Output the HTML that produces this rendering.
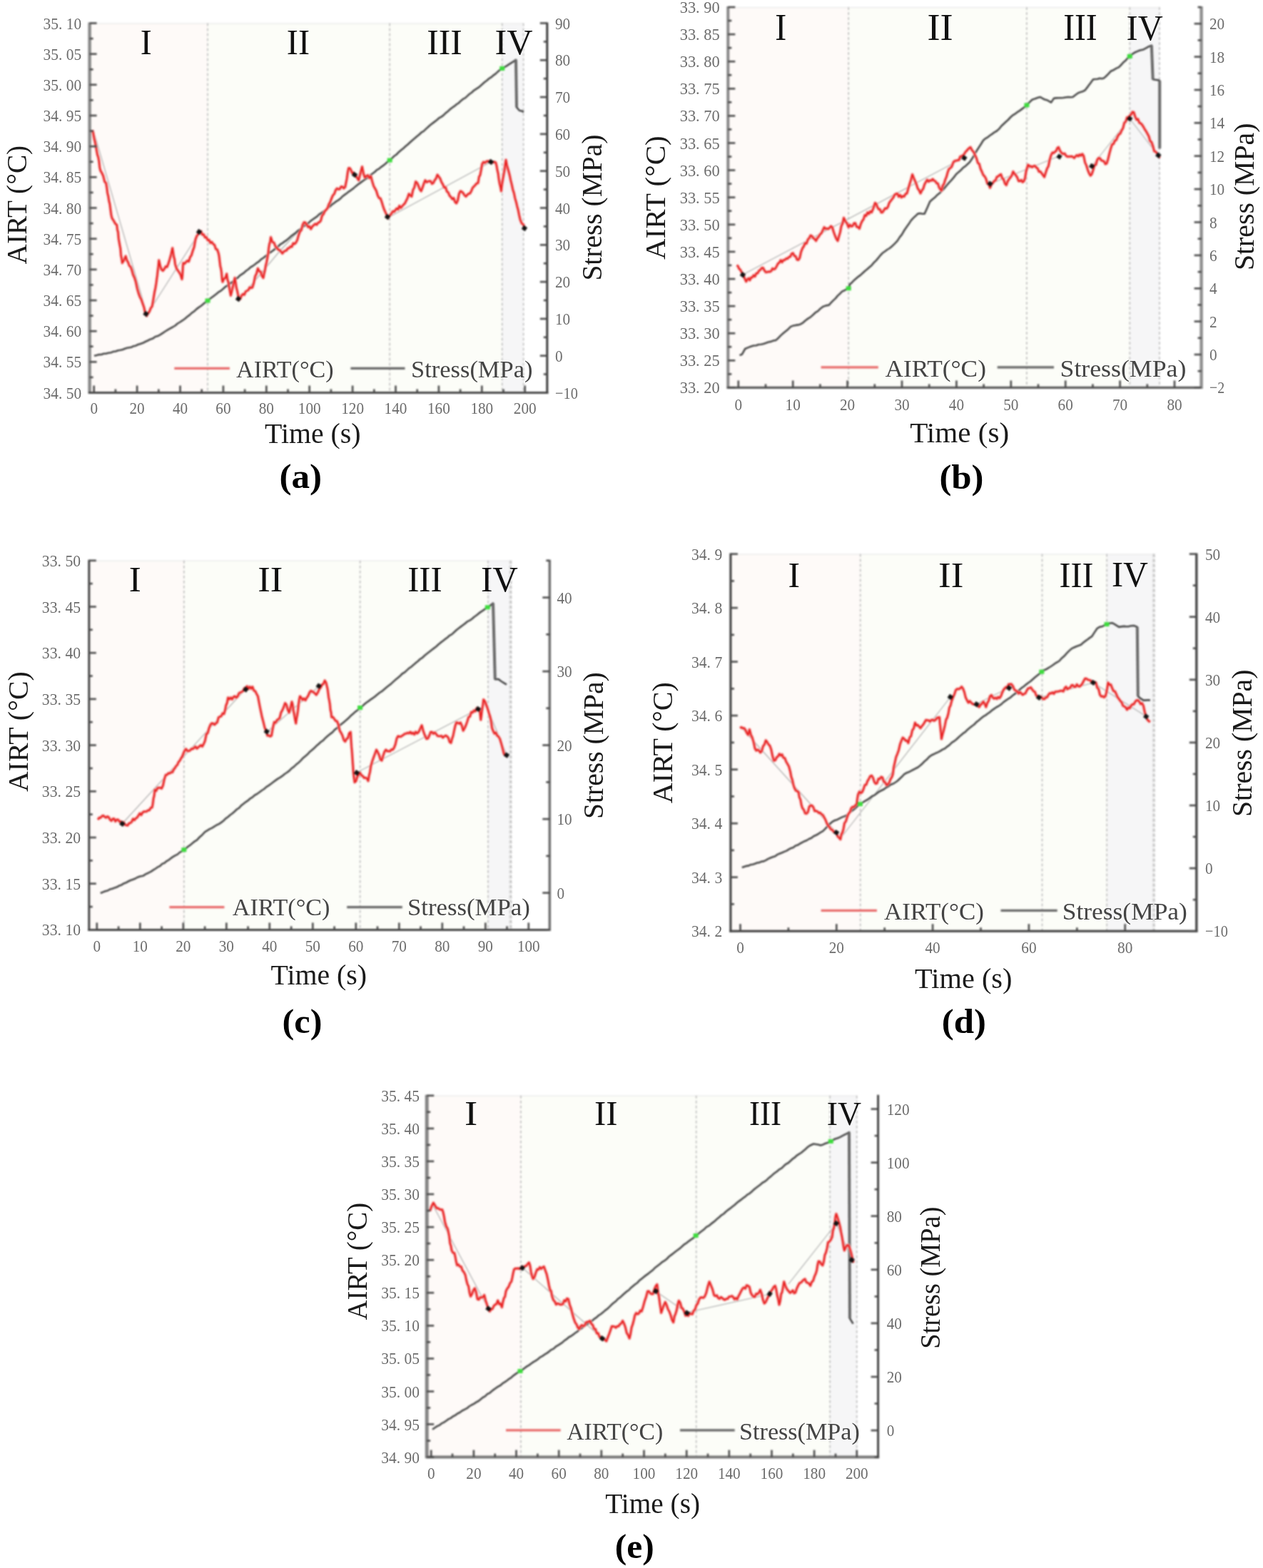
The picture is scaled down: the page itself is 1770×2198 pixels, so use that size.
<!DOCTYPE html>
<html><head><meta charset="utf-8"><title>AIRT and Stress vs Time</title>
<style>
html,body{margin:0;padding:0;background:#fff;width:1770px;height:2198px;overflow:hidden}
svg{display:block}
.soft{filter:blur(0.8px)}
text{font-family:'Liberation Serif', 'Noto Serif CJK SC', serif}
.tk{font-size:24px;fill:#6c6c6c}
.rg{fill:#111}
.lg{fill:#444}
.ax{fill:#1a1a1a}
.pn{font-weight:bold;fill:#000}
</style></head><body>
<div id="w">
<svg width="1770" height="2198" viewBox="0 0 1770 2198">
<rect width="1770" height="2198" fill="#fff"/>
<g class="soft">
<rect x="125.6" y="32.5" width="165.4" height="518.0" fill="#fefaf8"/>
<rect x="291" y="32.5" width="412.7" height="518.0" fill="#fcfdf8"/>
<rect x="703.7" y="32.5" width="29.9" height="518.0" fill="#f6f6f7"/>
<line x1="125.6" y1="33.0" x2="733.6" y2="33.0" stroke="#ececec" stroke-width="1.5"/>
<line x1="291" y1="32.5" x2="291" y2="550.5" stroke="#bdbdbd" stroke-width="1.6" stroke-dasharray="4,3"/>
<line x1="546.2" y1="32.5" x2="546.2" y2="550.5" stroke="#bdbdbd" stroke-width="1.6" stroke-dasharray="4,3"/>
<line x1="703.7" y1="32.5" x2="703.7" y2="550.5" stroke="#bdbdbd" stroke-width="1.6" stroke-dasharray="4,3"/>
<line x1="733.6" y1="32.5" x2="733.6" y2="550.5" stroke="#bdbdbd" stroke-width="1.6" stroke-dasharray="4,3"/>
<polyline points="133.0,190.0 206.0,441.0" fill="none" stroke="#b0b0b0" stroke-width="1.2"/>
<polyline points="206.0,441.0 280.0,325.0" fill="none" stroke="#b0b0b0" stroke-width="1.2"/>
<polyline points="335.0,420.0 392.0,352.0 420.0,322.0" fill="none" stroke="#b0b0b0" stroke-width="1.2"/>
<polyline points="544.0,305.0 686.0,228.0" fill="none" stroke="#b0b0b0" stroke-width="1.2"/>
<polyline points="132.0,498.8 135.4,498.0 138.7,497.1 142.1,497.0 145.4,495.7 148.8,495.6 152.1,494.7 155.5,494.2 158.8,492.9 162.1,492.5 165.4,491.2 168.7,490.8 172.0,490.0 175.0,488.7 178.0,487.8 181.0,487.3 184.0,486.8 187.0,485.2 190.0,484.7 193.4,483.0 196.8,481.9 200.2,480.8 203.6,479.0 207.0,477.5 210.5,475.7 214.0,474.6 217.6,472.0 221.1,471.1 224.6,469.1 228.1,466.8 231.6,464.5 235.0,462.4 238.5,460.4 242.0,458.5 245.4,456.5 248.9,453.5 252.3,451.5 255.8,449.2 259.2,446.7 262.4,444.0 265.6,441.6 268.8,438.6 272.0,436.5 275.3,433.4 278.6,430.9 281.8,428.7 285.1,425.9 291.0,421.5 294.0,419.1 297.0,416.7 300.0,414.6 303.0,412.2 306.0,409.7 309.0,407.9 312.0,405.5 315.0,402.7 318.0,400.7 321.0,398.4 324.0,396.4 327.0,393.9 330.0,391.2 333.0,389.5 336.0,386.4 339.0,384.4 342.0,382.4 345.0,379.5 348.0,377.5 351.0,374.7 354.0,373.0 357.1,370.8 360.1,368.3 363.1,366.3 366.1,363.4 369.1,361.5 372.1,359.0 375.1,356.7 378.1,354.3 381.1,352.3 384.1,350.1 387.1,347.3 390.1,345.2 393.1,342.3 396.1,340.6 399.1,338.3 402.1,336.3 405.1,333.8 408.1,330.9 411.1,328.7 414.1,326.7 417.1,323.7 420.1,321.9 423.1,319.2 426.1,316.9 429.1,314.5 432.1,312.9 435.1,309.9 438.1,307.7 441.1,305.6 444.1,303.7 447.1,300.6 450.1,298.7 453.1,296.5 456.1,294.5 459.1,292.1 462.1,289.8 465.1,286.9 468.1,284.7 471.1,282.4 474.1,280.6 477.1,278.3 480.1,275.2 483.2,272.9 486.2,270.7 489.2,268.3 492.2,266.3 495.2,264.1 498.2,261.4 501.2,258.9 504.2,256.9 507.2,254.6 510.2,252.5 513.2,250.5 516.2,248.0 519.2,245.5 522.2,243.2 525.2,241.0 528.2,238.1 531.2,236.6 534.2,234.1 537.2,231.9 540.2,229.5 543.2,226.8 546.2,224.6 549.4,221.8 552.5,218.7 555.7,216.5 558.9,213.2 562.0,210.5 565.2,207.9 568.4,205.1 571.5,202.5 574.7,199.5 577.8,196.7 581.0,194.1 584.2,191.3 587.3,188.8 590.5,185.7 593.7,183.9 596.8,180.9 600.0,178.0 603.0,175.2 606.1,172.9 609.1,170.6 612.2,168.2 615.2,165.5 618.3,163.9 621.4,161.6 624.4,158.6 627.5,156.3 630.5,153.4 633.6,151.0 636.6,148.9 639.6,146.4 642.7,144.5 645.8,141.4 648.8,138.9 651.9,137.4 654.9,134.6 658.0,131.8 661.0,129.7 664.1,126.8 667.1,124.9 670.2,122.9 673.2,120.4 676.2,117.8 679.3,115.0 682.4,112.7 685.4,110.1 688.5,108.2 691.5,105.6 694.6,103.4 697.6,100.6 700.7,98.0 703.7,95.9 706.9,94.2 710.1,92.4 713.4,90.2 716.6,88.1 719.8,86.1 723.0,83.8 723.2,95.1 723.3,105.7 723.5,117.1 723.7,128.0 723.8,138.7 724.0,150.3 728.0,155.0 731.0,155.5 734.0,157.0" fill="none" stroke="#474747" stroke-width="2.6" stroke-linejoin="round"/>
<line x1="723" y1="83.8" x2="724" y2="150.3" stroke="#6a6a6a" stroke-width="4"/>
<polyline points="129.5,182.3 130.7,186.7 131.9,193.9 133.1,198.7 134.3,205.0 135.4,211.2 136.5,217.1 137.6,220.1 138.7,225.6 139.8,235.3 140.9,239.4 142.8,242.5 144.7,246.7 146.6,254.6 148.5,256.5 149.6,262.5 150.6,270.5 151.7,274.9 152.8,281.9 153.8,285.7 154.9,294.2 155.9,301.5 157.0,305.9 159.2,309.2 161.5,313.4 163.7,315.4 164.5,322.1 165.4,325.1 166.2,334.4 167.1,339.5 167.9,344.0 168.8,348.6 169.6,358.5 170.5,362.6 171.3,368.6 173.7,364.9 176.1,359.1 177.8,364.7 179.5,367.7 181.2,372.5 182.9,373.8 184.6,378.1 186.5,385.2 188.4,389.2 190.3,395.2 192.2,404.3 194.1,411.0 196.0,416.2 197.9,419.6 199.8,425.1 201.8,430.8 203.7,439.7 205.6,442.8 207.5,439.2 209.4,436.8 211.3,431.9 213.2,429.5 214.3,423.1 215.5,416.0 216.6,409.3 217.8,404.0 218.9,397.1 219.7,391.0 220.4,386.1 221.2,378.6 221.9,373.3 222.7,364.8 224.6,373.2 226.5,378.1 228.4,379.5 230.3,377.0 232.2,373.6 234.1,374.3 236.0,369.4 237.9,363.2 239.8,356.3 241.7,347.7 242.6,353.7 243.6,360.1 244.6,363.4 245.5,370.5 247.4,376.3 249.3,379.2 251.2,382.0 253.1,385.1 255.0,391.4 255.5,387.4 255.9,382.4 256.4,372.3 256.9,368.6 258.8,369.6 260.7,367.2 262.6,365.5 264.5,366.7 266.4,360.6 268.3,357.9 270.2,351.5 272.1,346.3 274.0,335.4 275.9,330.6 277.8,328.3 279.7,324.9 281.6,324.2 283.5,329.0 285.4,328.6 287.3,332.8 289.2,332.5 291.1,336.7 293.0,336.3 294.9,340.6 296.8,339.2 298.7,342.0 300.6,343.3 302.5,349.1 304.4,349.7 306.3,355.3 307.1,359.5 307.9,366.3 308.7,372.9 309.6,376.4 310.4,381.6 311.2,391.3 312.0,395.2 313.9,390.5 315.8,389.8 317.7,383.8 318.8,391.8 320.0,395.4 321.1,401.9 322.3,408.3 323.4,414.3 324.8,408.8 326.2,402.4 327.7,396.0 329.1,389.5 330.2,396.2 331.4,403.8 332.5,407.8 333.7,413.6 334.8,420.0 336.7,418.8 338.6,414.2 340.5,412.2 342.4,413.2 344.3,408.6 346.2,407.6 348.1,406.6 350.0,402.8 351.9,403.6 353.8,402.9 355.7,396.6 357.6,387.2 359.5,383.4 361.4,376.2 363.3,380.2 365.2,380.7 367.1,386.8 369.0,389.5 370.2,383.6 371.3,379.0 372.5,371.7 373.6,367.7 374.8,361.0 375.7,356.4 376.7,347.3 377.6,341.8 378.6,339.0 379.5,332.5 381.7,339.2 384.0,340.2 386.2,345.8 388.1,347.5 390.0,350.0 391.9,350.6 393.8,352.7 395.7,355.3 397.6,352.9 399.5,351.6 401.4,351.2 403.3,348.3 405.2,347.7 407.1,345.6 409.0,346.0 410.9,340.9 412.8,342.0 414.7,340.1 416.6,336.5 418.5,329.7 420.4,324.5 422.3,322.6 424.2,315.1 426.1,311.6 428.0,312.0 429.9,315.1 431.8,318.3 433.7,317.3 435.6,321.1 437.8,317.4 440.0,315.4 441.9,313.7 443.8,315.1 445.7,312.3 447.6,311.6 449.5,309.5 451.4,302.4 453.3,300.2 455.2,296.0 457.1,294.1 459.0,291.8 460.9,286.3 462.8,283.1 464.7,278.0 466.6,273.7 468.5,271.8 470.4,266.4 472.3,264.1 474.2,265.3 476.1,265.1 478.0,261.6 479.9,261.8 481.8,264.0 483.7,262.2 484.9,256.2 486.1,250.4 487.3,241.5 488.5,235.6 490.2,235.7 491.9,238.4 493.6,242.7 495.3,242.0 497.0,245.0 498.9,246.8 500.8,249.7 502.7,252.7 504.3,246.0 505.9,239.6 507.5,233.7 509.4,243.3 511.3,248.9 513.4,246.8 515.5,245.6 517.7,249.6 519.8,247.0 521.7,254.5 523.6,260.7 525.5,264.1 527.4,267.6 529.3,273.9 531.2,277.6 533.1,278.0 535.0,283.1 536.7,288.8 538.4,293.8 540.2,297.6 541.9,301.4 543.6,305.9 545.4,303.0 547.1,301.3 548.9,298.9 550.6,296.2 552.4,296.8 554.1,294.5 556.0,292.2 557.9,293.5 559.8,288.5 561.7,291.4 563.6,289.1 565.5,286.9 567.4,285.1 569.3,281.2 571.2,277.4 573.1,271.7 575.0,274.0 576.9,275.5 578.8,266.2 580.7,262.7 582.6,254.6 584.5,256.3 586.4,260.3 588.3,265.4 590.2,267.9 592.1,263.0 594.0,257.4 595.9,252.7 597.8,255.4 599.7,254.5 601.6,253.8 603.5,254.0 605.4,257.6 607.3,256.5 609.2,252.6 611.1,250.2 613.0,245.0 614.9,247.6 616.8,250.2 618.7,255.2 620.6,258.4 622.5,262.8 624.4,262.5 626.3,268.4 628.2,269.8 630.1,274.4 632.0,276.3 633.9,279.0 635.8,277.6 637.7,283.1 639.6,285.0 641.5,281.0 643.4,271.4 645.3,267.9 647.2,268.7 649.1,270.6 651.0,273.7 652.9,275.5 654.8,273.2 656.7,271.6 658.6,271.1 660.5,267.9 662.4,263.2 664.3,261.2 666.2,259.3 668.1,257.0 670.0,256.5 671.4,247.8 672.9,245.4 674.3,238.2 675.7,229.8 677.6,227.1 679.5,228.3 681.4,226.6 683.3,225.9 685.2,226.0 687.1,225.7 689.0,227.5 691.0,227.6 692.9,226.9 694.8,228.0 695.9,232.2 697.0,238.6 698.1,243.3 699.1,251.1 700.2,257.5 701.3,261.6 702.4,267.9 703.3,259.6 704.3,253.8 705.2,248.5 706.2,243.4 707.1,238.0 708.1,229.8 709.0,224.1 710.3,231.3 711.7,236.1 713.0,240.9 714.4,246.4 715.7,252.7 717.2,258.8 718.7,265.8 720.3,270.6 721.8,278.0 723.3,283.1 724.7,289.1 726.1,294.2 727.6,301.8 729.0,307.8 731.2,313.2 733.4,314.6 735.6,321.1" fill="none" stroke="#f5a3a3" stroke-width="4.4" stroke-linejoin="round"/>
<polyline points="129.5,182.3 130.7,186.7 131.9,193.9 133.1,198.7 134.3,205.0 135.4,211.2 136.5,217.1 137.6,220.1 138.7,225.6 139.8,235.3 140.9,239.4 142.8,242.5 144.7,246.7 146.6,254.6 148.5,256.5 149.6,262.5 150.6,270.5 151.7,274.9 152.8,281.9 153.8,285.7 154.9,294.2 155.9,301.5 157.0,305.9 159.2,309.2 161.5,313.4 163.7,315.4 164.5,322.1 165.4,325.1 166.2,334.4 167.1,339.5 167.9,344.0 168.8,348.6 169.6,358.5 170.5,362.6 171.3,368.6 173.7,364.9 176.1,359.1 177.8,364.7 179.5,367.7 181.2,372.5 182.9,373.8 184.6,378.1 186.5,385.2 188.4,389.2 190.3,395.2 192.2,404.3 194.1,411.0 196.0,416.2 197.9,419.6 199.8,425.1 201.8,430.8 203.7,439.7 205.6,442.8 207.5,439.2 209.4,436.8 211.3,431.9 213.2,429.5 214.3,423.1 215.5,416.0 216.6,409.3 217.8,404.0 218.9,397.1 219.7,391.0 220.4,386.1 221.2,378.6 221.9,373.3 222.7,364.8 224.6,373.2 226.5,378.1 228.4,379.5 230.3,377.0 232.2,373.6 234.1,374.3 236.0,369.4 237.9,363.2 239.8,356.3 241.7,347.7 242.6,353.7 243.6,360.1 244.6,363.4 245.5,370.5 247.4,376.3 249.3,379.2 251.2,382.0 253.1,385.1 255.0,391.4 255.5,387.4 255.9,382.4 256.4,372.3 256.9,368.6 258.8,369.6 260.7,367.2 262.6,365.5 264.5,366.7 266.4,360.6 268.3,357.9 270.2,351.5 272.1,346.3 274.0,335.4 275.9,330.6 277.8,328.3 279.7,324.9 281.6,324.2 283.5,329.0 285.4,328.6 287.3,332.8 289.2,332.5 291.1,336.7 293.0,336.3 294.9,340.6 296.8,339.2 298.7,342.0 300.6,343.3 302.5,349.1 304.4,349.7 306.3,355.3 307.1,359.5 307.9,366.3 308.7,372.9 309.6,376.4 310.4,381.6 311.2,391.3 312.0,395.2 313.9,390.5 315.8,389.8 317.7,383.8 318.8,391.8 320.0,395.4 321.1,401.9 322.3,408.3 323.4,414.3 324.8,408.8 326.2,402.4 327.7,396.0 329.1,389.5 330.2,396.2 331.4,403.8 332.5,407.8 333.7,413.6 334.8,420.0 336.7,418.8 338.6,414.2 340.5,412.2 342.4,413.2 344.3,408.6 346.2,407.6 348.1,406.6 350.0,402.8 351.9,403.6 353.8,402.9 355.7,396.6 357.6,387.2 359.5,383.4 361.4,376.2 363.3,380.2 365.2,380.7 367.1,386.8 369.0,389.5 370.2,383.6 371.3,379.0 372.5,371.7 373.6,367.7 374.8,361.0 375.7,356.4 376.7,347.3 377.6,341.8 378.6,339.0 379.5,332.5 381.7,339.2 384.0,340.2 386.2,345.8 388.1,347.5 390.0,350.0 391.9,350.6 393.8,352.7 395.7,355.3 397.6,352.9 399.5,351.6 401.4,351.2 403.3,348.3 405.2,347.7 407.1,345.6 409.0,346.0 410.9,340.9 412.8,342.0 414.7,340.1 416.6,336.5 418.5,329.7 420.4,324.5 422.3,322.6 424.2,315.1 426.1,311.6 428.0,312.0 429.9,315.1 431.8,318.3 433.7,317.3 435.6,321.1 437.8,317.4 440.0,315.4 441.9,313.7 443.8,315.1 445.7,312.3 447.6,311.6 449.5,309.5 451.4,302.4 453.3,300.2 455.2,296.0 457.1,294.1 459.0,291.8 460.9,286.3 462.8,283.1 464.7,278.0 466.6,273.7 468.5,271.8 470.4,266.4 472.3,264.1 474.2,265.3 476.1,265.1 478.0,261.6 479.9,261.8 481.8,264.0 483.7,262.2 484.9,256.2 486.1,250.4 487.3,241.5 488.5,235.6 490.2,235.7 491.9,238.4 493.6,242.7 495.3,242.0 497.0,245.0 498.9,246.8 500.8,249.7 502.7,252.7 504.3,246.0 505.9,239.6 507.5,233.7 509.4,243.3 511.3,248.9 513.4,246.8 515.5,245.6 517.7,249.6 519.8,247.0 521.7,254.5 523.6,260.7 525.5,264.1 527.4,267.6 529.3,273.9 531.2,277.6 533.1,278.0 535.0,283.1 536.7,288.8 538.4,293.8 540.2,297.6 541.9,301.4 543.6,305.9 545.4,303.0 547.1,301.3 548.9,298.9 550.6,296.2 552.4,296.8 554.1,294.5 556.0,292.2 557.9,293.5 559.8,288.5 561.7,291.4 563.6,289.1 565.5,286.9 567.4,285.1 569.3,281.2 571.2,277.4 573.1,271.7 575.0,274.0 576.9,275.5 578.8,266.2 580.7,262.7 582.6,254.6 584.5,256.3 586.4,260.3 588.3,265.4 590.2,267.9 592.1,263.0 594.0,257.4 595.9,252.7 597.8,255.4 599.7,254.5 601.6,253.8 603.5,254.0 605.4,257.6 607.3,256.5 609.2,252.6 611.1,250.2 613.0,245.0 614.9,247.6 616.8,250.2 618.7,255.2 620.6,258.4 622.5,262.8 624.4,262.5 626.3,268.4 628.2,269.8 630.1,274.4 632.0,276.3 633.9,279.0 635.8,277.6 637.7,283.1 639.6,285.0 641.5,281.0 643.4,271.4 645.3,267.9 647.2,268.7 649.1,270.6 651.0,273.7 652.9,275.5 654.8,273.2 656.7,271.6 658.6,271.1 660.5,267.9 662.4,263.2 664.3,261.2 666.2,259.3 668.1,257.0 670.0,256.5 671.4,247.8 672.9,245.4 674.3,238.2 675.7,229.8 677.6,227.1 679.5,228.3 681.4,226.6 683.3,225.9 685.2,226.0 687.1,225.7 689.0,227.5 691.0,227.6 692.9,226.9 694.8,228.0 695.9,232.2 697.0,238.6 698.1,243.3 699.1,251.1 700.2,257.5 701.3,261.6 702.4,267.9 703.3,259.6 704.3,253.8 705.2,248.5 706.2,243.4 707.1,238.0 708.1,229.8 709.0,224.1 710.3,231.3 711.7,236.1 713.0,240.9 714.4,246.4 715.7,252.7 717.2,258.8 718.7,265.8 720.3,270.6 721.8,278.0 723.3,283.1 724.7,289.1 726.1,294.2 727.6,301.8 729.0,307.8 731.2,313.2 733.4,314.6 735.6,321.1" fill="none" stroke="#e81c1c" stroke-width="2.2" stroke-linejoin="round"/>
<rect x="201.5" y="437" width="6" height="6" fill="#111" transform="rotate(35 204.5 440)"/>
<rect x="276" y="322" width="6" height="6" fill="#111" transform="rotate(35 279 325)"/>
<rect x="331" y="416" width="6" height="6" fill="#111" transform="rotate(35 334 419)"/>
<rect x="494" y="242" width="6" height="6" fill="#111" transform="rotate(35 497 245)"/>
<rect x="540" y="301" width="6" height="6" fill="#111" transform="rotate(35 543 304)"/>
<rect x="685" y="224" width="6" height="6" fill="#111" transform="rotate(35 688 227)"/>
<rect x="732" y="317" width="6" height="6" fill="#111" transform="rotate(35 735 320)"/>
<rect x="287.5" y="418.5" width="7" height="6" fill="#3ddc3d"/>
<rect x="542.7" y="221.6" width="7" height="6" fill="#3ddc3d"/>
<rect x="700.2" y="92.9" width="7" height="6" fill="#3ddc3d"/>
<line x1="125.6" y1="31.5" x2="125.6" y2="552.0" stroke="#8a8a8a" stroke-width="4.5"/>
<line x1="124.1" y1="550.5" x2="768.3" y2="550.5" stroke="#474747" stroke-width="3"/>
<line x1="766.8" y1="31.5" x2="766.8" y2="552.0" stroke="#3a3a3a" stroke-width="3"/>
<line x1="125.6" y1="550.5" x2="135.6" y2="550.5" stroke="#4a4a4a" stroke-width="2.6"/>
<line x1="125.6" y1="528.9" x2="130.6" y2="528.9" stroke="#4a4a4a" stroke-width="2.6"/>
<line x1="125.6" y1="507.3" x2="135.6" y2="507.3" stroke="#4a4a4a" stroke-width="2.6"/>
<line x1="125.6" y1="485.7" x2="130.6" y2="485.7" stroke="#4a4a4a" stroke-width="2.6"/>
<line x1="125.6" y1="464.2" x2="135.6" y2="464.2" stroke="#4a4a4a" stroke-width="2.6"/>
<line x1="125.6" y1="442.6" x2="130.6" y2="442.6" stroke="#4a4a4a" stroke-width="2.6"/>
<line x1="125.6" y1="421.0" x2="135.6" y2="421.0" stroke="#4a4a4a" stroke-width="2.6"/>
<line x1="125.6" y1="399.4" x2="130.6" y2="399.4" stroke="#4a4a4a" stroke-width="2.6"/>
<line x1="125.6" y1="377.8" x2="135.6" y2="377.8" stroke="#4a4a4a" stroke-width="2.6"/>
<line x1="125.6" y1="356.2" x2="130.6" y2="356.2" stroke="#4a4a4a" stroke-width="2.6"/>
<line x1="125.6" y1="334.7" x2="135.6" y2="334.7" stroke="#4a4a4a" stroke-width="2.6"/>
<line x1="125.6" y1="313.1" x2="130.6" y2="313.1" stroke="#4a4a4a" stroke-width="2.6"/>
<line x1="125.6" y1="291.5" x2="135.6" y2="291.5" stroke="#4a4a4a" stroke-width="2.6"/>
<line x1="125.6" y1="269.9" x2="130.6" y2="269.9" stroke="#4a4a4a" stroke-width="2.6"/>
<line x1="125.6" y1="248.3" x2="135.6" y2="248.3" stroke="#4a4a4a" stroke-width="2.6"/>
<line x1="125.6" y1="226.8" x2="130.6" y2="226.8" stroke="#4a4a4a" stroke-width="2.6"/>
<line x1="125.6" y1="205.2" x2="135.6" y2="205.2" stroke="#4a4a4a" stroke-width="2.6"/>
<line x1="125.6" y1="183.6" x2="130.6" y2="183.6" stroke="#4a4a4a" stroke-width="2.6"/>
<line x1="125.6" y1="162.0" x2="135.6" y2="162.0" stroke="#4a4a4a" stroke-width="2.6"/>
<line x1="125.6" y1="140.4" x2="130.6" y2="140.4" stroke="#4a4a4a" stroke-width="2.6"/>
<line x1="125.6" y1="118.8" x2="135.6" y2="118.8" stroke="#4a4a4a" stroke-width="2.6"/>
<line x1="125.6" y1="97.3" x2="130.6" y2="97.3" stroke="#4a4a4a" stroke-width="2.6"/>
<line x1="125.6" y1="75.7" x2="135.6" y2="75.7" stroke="#4a4a4a" stroke-width="2.6"/>
<line x1="125.6" y1="54.1" x2="130.6" y2="54.1" stroke="#4a4a4a" stroke-width="2.6"/>
<line x1="125.6" y1="32.5" x2="135.6" y2="32.5" stroke="#4a4a4a" stroke-width="2.6"/>
<line x1="766.8" y1="550.5" x2="756.8" y2="550.5" stroke="#4a4a4a" stroke-width="2.6"/>
<line x1="766.8" y1="524.6" x2="761.8" y2="524.6" stroke="#4a4a4a" stroke-width="2.6"/>
<line x1="766.8" y1="498.7" x2="756.8" y2="498.7" stroke="#4a4a4a" stroke-width="2.6"/>
<line x1="766.8" y1="472.8" x2="761.8" y2="472.8" stroke="#4a4a4a" stroke-width="2.6"/>
<line x1="766.8" y1="446.9" x2="756.8" y2="446.9" stroke="#4a4a4a" stroke-width="2.6"/>
<line x1="766.8" y1="421.0" x2="761.8" y2="421.0" stroke="#4a4a4a" stroke-width="2.6"/>
<line x1="766.8" y1="395.1" x2="756.8" y2="395.1" stroke="#4a4a4a" stroke-width="2.6"/>
<line x1="766.8" y1="369.2" x2="761.8" y2="369.2" stroke="#4a4a4a" stroke-width="2.6"/>
<line x1="766.8" y1="343.3" x2="756.8" y2="343.3" stroke="#4a4a4a" stroke-width="2.6"/>
<line x1="766.8" y1="317.4" x2="761.8" y2="317.4" stroke="#4a4a4a" stroke-width="2.6"/>
<line x1="766.8" y1="291.5" x2="756.8" y2="291.5" stroke="#4a4a4a" stroke-width="2.6"/>
<line x1="766.8" y1="265.6" x2="761.8" y2="265.6" stroke="#4a4a4a" stroke-width="2.6"/>
<line x1="766.8" y1="239.7" x2="756.8" y2="239.7" stroke="#4a4a4a" stroke-width="2.6"/>
<line x1="766.8" y1="213.8" x2="761.8" y2="213.8" stroke="#4a4a4a" stroke-width="2.6"/>
<line x1="766.8" y1="187.9" x2="756.8" y2="187.9" stroke="#4a4a4a" stroke-width="2.6"/>
<line x1="766.8" y1="162.0" x2="761.8" y2="162.0" stroke="#4a4a4a" stroke-width="2.6"/>
<line x1="766.8" y1="136.1" x2="756.8" y2="136.1" stroke="#4a4a4a" stroke-width="2.6"/>
<line x1="766.8" y1="110.2" x2="761.8" y2="110.2" stroke="#4a4a4a" stroke-width="2.6"/>
<line x1="766.8" y1="84.3" x2="756.8" y2="84.3" stroke="#4a4a4a" stroke-width="2.6"/>
<line x1="766.8" y1="58.4" x2="761.8" y2="58.4" stroke="#4a4a4a" stroke-width="2.6"/>
<line x1="766.8" y1="32.5" x2="756.8" y2="32.5" stroke="#4a4a4a" stroke-width="2.6"/>
<line x1="131.7" y1="550.5" x2="131.7" y2="540.5" stroke="#4a4a4a" stroke-width="2.6"/>
<line x1="161.9" y1="550.5" x2="161.9" y2="545.5" stroke="#4a4a4a" stroke-width="2.6"/>
<line x1="192.1" y1="550.5" x2="192.1" y2="540.5" stroke="#4a4a4a" stroke-width="2.6"/>
<line x1="222.3" y1="550.5" x2="222.3" y2="545.5" stroke="#4a4a4a" stroke-width="2.6"/>
<line x1="252.5" y1="550.5" x2="252.5" y2="540.5" stroke="#4a4a4a" stroke-width="2.6"/>
<line x1="282.7" y1="550.5" x2="282.7" y2="545.5" stroke="#4a4a4a" stroke-width="2.6"/>
<line x1="312.9" y1="550.5" x2="312.9" y2="540.5" stroke="#4a4a4a" stroke-width="2.6"/>
<line x1="343.1" y1="550.5" x2="343.1" y2="545.5" stroke="#4a4a4a" stroke-width="2.6"/>
<line x1="373.3" y1="550.5" x2="373.3" y2="540.5" stroke="#4a4a4a" stroke-width="2.6"/>
<line x1="403.5" y1="550.5" x2="403.5" y2="545.5" stroke="#4a4a4a" stroke-width="2.6"/>
<line x1="433.7" y1="550.5" x2="433.7" y2="540.5" stroke="#4a4a4a" stroke-width="2.6"/>
<line x1="463.9" y1="550.5" x2="463.9" y2="545.5" stroke="#4a4a4a" stroke-width="2.6"/>
<line x1="494.1" y1="550.5" x2="494.1" y2="540.5" stroke="#4a4a4a" stroke-width="2.6"/>
<line x1="524.3" y1="550.5" x2="524.3" y2="545.5" stroke="#4a4a4a" stroke-width="2.6"/>
<line x1="554.5" y1="550.5" x2="554.5" y2="540.5" stroke="#4a4a4a" stroke-width="2.6"/>
<line x1="584.7" y1="550.5" x2="584.7" y2="545.5" stroke="#4a4a4a" stroke-width="2.6"/>
<line x1="614.9" y1="550.5" x2="614.9" y2="540.5" stroke="#4a4a4a" stroke-width="2.6"/>
<line x1="645.1" y1="550.5" x2="645.1" y2="545.5" stroke="#4a4a4a" stroke-width="2.6"/>
<line x1="675.3" y1="550.5" x2="675.3" y2="540.5" stroke="#4a4a4a" stroke-width="2.6"/>
<line x1="705.5" y1="550.5" x2="705.5" y2="545.5" stroke="#4a4a4a" stroke-width="2.6"/>
<line x1="735.7" y1="550.5" x2="735.7" y2="540.5" stroke="#4a4a4a" stroke-width="2.6"/>
<line x1="244.3" y1="516.4" x2="321.9" y2="516.4" stroke="#e86a6a" stroke-width="3.2"/>
<line x1="491.4" y1="516.4" x2="567.5" y2="516.4" stroke="#666" stroke-width="3.2"/>
<rect x="1020.3" y="10" width="168.9" height="533.4" fill="#fefaf8"/>
<rect x="1189.2" y="10" width="394.1" height="533.4" fill="#fcfdf8"/>
<rect x="1583.3" y="10" width="41.6" height="533.4" fill="#f6f6f7"/>
<line x1="1020.3" y1="10.5" x2="1624.9" y2="10.5" stroke="#ececec" stroke-width="1.5"/>
<line x1="1189.2" y1="10" x2="1189.2" y2="543.4" stroke="#bdbdbd" stroke-width="1.6" stroke-dasharray="4,3"/>
<line x1="1438.8" y1="10" x2="1438.8" y2="543.4" stroke="#bdbdbd" stroke-width="1.6" stroke-dasharray="4,3"/>
<line x1="1583.3" y1="10" x2="1583.3" y2="543.4" stroke="#bdbdbd" stroke-width="1.6" stroke-dasharray="4,3"/>
<line x1="1624.9" y1="10" x2="1624.9" y2="543.4" stroke="#bdbdbd" stroke-width="1.6" stroke-dasharray="4,3"/>
<polyline points="1041.0,385.0 1351.0,221.0" fill="none" stroke="#b0b0b0" stroke-width="1.2"/>
<polyline points="1387.0,258.0 1484.0,219.0" fill="none" stroke="#b0b0b0" stroke-width="1.2"/>
<polyline points="1530.0,233.0 1583.0,166.0" fill="none" stroke="#b0b0b0" stroke-width="1.2"/>
<polyline points="1583.0,166.0 1623.0,218.0" fill="none" stroke="#b0b0b0" stroke-width="1.2"/>
<polyline points="1036.5,498.0 1039.8,496.8 1044.2,489.0 1048.5,487.1 1052.8,485.5 1056.2,484.5 1059.7,484.3 1063.1,483.0 1066.6,482.7 1070.0,482.0 1073.5,480.8 1077.0,479.5 1080.4,478.9 1083.9,477.5 1087.4,476.9 1090.9,473.7 1094.3,470.1 1097.8,467.0 1101.2,464.2 1104.6,461.4 1108.1,457.9 1111.5,456.6 1115.0,455.9 1118.5,455.4 1121.9,454.4 1125.4,452.3 1128.8,449.3 1132.3,446.6 1135.7,444.6 1139.2,441.5 1142.7,438.2 1146.2,436.1 1149.6,432.7 1153.1,430.0 1157.4,428.4 1161.7,427.6 1164.8,424.1 1167.8,421.1 1170.8,418.4 1173.9,414.6 1177.0,411.8 1180.0,408.6 1183.1,407.3 1186.1,405.5 1189.2,404.2 1191.0,398.5 1194.0,395.9 1197.1,392.7 1200.2,390.1 1203.2,387.6 1206.2,385.4 1209.3,382.5 1212.3,379.7 1215.4,377.3 1218.5,374.5 1221.5,371.9 1224.5,368.3 1227.6,365.4 1230.6,361.8 1233.7,358.0 1236.7,354.8 1240.0,352.5 1243.3,350.0 1246.7,348.0 1250.0,345.2 1253.8,341.6 1257.6,337.6 1260.8,332.6 1264.0,328.6 1267.2,323.0 1270.3,318.5 1273.5,314.1 1276.7,309.1 1279.9,305.6 1283.0,302.8 1286.2,299.6 1289.4,299.1 1292.5,299.8 1295.7,299.6 1299.5,291.3 1303.3,282.5 1306.7,279.5 1310.1,276.8 1313.6,273.2 1317.0,270.5 1320.4,267.3 1323.7,263.6 1326.9,259.7 1330.2,255.8 1333.5,252.3 1336.7,248.6 1340.0,244.3 1343.2,241.4 1346.3,238.8 1349.5,235.3 1352.7,233.1 1355.8,230.2 1359.0,227.2 1362.2,222.6 1365.3,217.4 1368.5,211.8 1371.7,206.8 1374.8,202.0 1378.0,196.8 1381.2,194.1 1384.3,192.3 1387.5,189.8 1390.7,187.6 1393.8,185.3 1397.0,183.5 1400.2,180.6 1403.3,176.8 1406.5,173.7 1409.7,170.7 1412.8,168.0 1416.0,164.5 1419.3,161.6 1422.5,159.6 1425.8,157.2 1429.1,155.1 1432.4,152.6 1435.6,150.2 1438.9,147.4 1442.7,143.4 1446.5,139.8 1450.3,138.4 1454.1,137.1 1457.9,136.0 1460.9,137.9 1464.0,139.5 1467.0,140.2 1470.1,141.8 1473.1,143.6 1476.9,137.9 1480.2,137.4 1483.6,137.2 1486.9,137.2 1490.2,137.0 1493.5,136.5 1496.8,136.0 1500.2,136.2 1503.5,136.0 1507.3,133.0 1511.1,130.3 1514.3,129.1 1517.4,128.2 1520.6,126.5 1524.4,121.6 1528.2,116.4 1532.0,111.3 1535.0,111.0 1538.1,110.7 1541.1,109.7 1544.2,110.2 1547.2,109.4 1550.4,106.5 1553.5,103.4 1556.7,99.8 1560.5,98.2 1564.3,95.9 1568.1,94.1 1571.1,91.0 1574.2,87.6 1577.2,85.1 1580.3,81.5 1583.3,78.9 1587.2,75.6 1591.0,73.2 1594.8,71.6 1598.6,70.3 1602.4,69.4 1606.2,67.3 1610.0,65.2 1613.8,63.7 1614.3,75.1 1614.8,87.2 1615.2,99.0 1615.7,111.3 1618.9,111.8 1622.0,112.1 1625.2,113.2 1625.2,124.1 1625.2,134.4 1625.2,144.5 1625.2,155.2 1625.2,165.8 1625.2,176.4 1625.2,186.7 1625.2,198.0 1625.2,208.2" fill="none" stroke="#474747" stroke-width="2.6" stroke-linejoin="round"/>
<line x1="1613.8" y1="63.7" x2="1615.7" y2="111.3" stroke="#6a6a6a" stroke-width="4"/>
<line x1="1625.2" y1="113.2" x2="1625.2" y2="208.2" stroke="#6a6a6a" stroke-width="4"/>
<polyline points="1032.4,371.9 1034.1,372.9 1035.8,376.7 1037.5,378.1 1039.2,381.5 1040.9,383.3 1043.3,389.6 1045.7,394.7 1047.4,391.5 1049.1,390.1 1050.8,392.9 1052.5,389.0 1054.2,389.0 1056.1,385.8 1058.0,387.6 1059.9,383.2 1061.8,383.0 1063.7,379.4 1065.6,378.3 1067.5,375.7 1069.4,375.4 1071.3,379.2 1073.2,381.7 1075.1,381.4 1077.0,380.8 1078.9,381.0 1080.8,379.9 1082.7,376.3 1084.6,377.6 1086.5,376.5 1088.4,373.3 1090.3,369.5 1092.2,368.1 1094.1,364.7 1096.0,367.6 1097.9,364.5 1099.8,364.6 1101.7,362.4 1103.6,362.7 1105.5,360.4 1107.5,359.9 1109.4,355.8 1111.3,354.8 1113.2,358.6 1115.1,359.3 1117.0,364.0 1118.9,364.3 1120.8,361.3 1122.7,352.8 1124.6,348.2 1126.5,345.2 1128.4,340.8 1130.3,341.4 1132.2,335.8 1134.1,333.6 1136.0,330.0 1137.9,330.9 1139.8,333.8 1141.7,335.2 1143.6,337.6 1145.5,333.7 1147.4,331.7 1149.3,328.5 1151.2,326.9 1153.1,322.6 1155.0,318.6 1156.9,320.7 1158.8,320.3 1160.7,321.0 1162.6,319.4 1164.5,317.0 1166.4,318.6 1168.3,325.1 1170.2,330.3 1172.1,334.8 1174.0,337.6 1175.7,331.5 1177.4,325.7 1179.1,316.8 1180.8,313.4 1182.5,305.3 1184.7,310.1 1187.0,313.1 1189.2,318.6 1191.1,315.1 1193.0,317.4 1194.9,316.7 1196.8,312.9 1198.7,312.8 1200.6,318.1 1202.5,318.2 1204.4,320.5 1206.3,314.1 1208.2,310.0 1210.1,307.5 1212.0,301.5 1213.9,302.5 1215.8,297.8 1217.7,299.8 1219.6,296.3 1221.5,297.7 1223.9,292.1 1226.3,284.4 1228.0,285.8 1229.8,290.7 1231.5,293.4 1233.2,293.3 1235.0,297.9 1236.7,297.7 1238.6,294.9 1240.5,291.9 1242.4,292.5 1244.3,290.1 1246.2,284.4 1248.1,281.8 1250.0,279.4 1251.9,277.0 1253.8,273.0 1255.7,271.7 1257.6,271.4 1259.5,275.7 1261.4,273.4 1263.3,276.8 1265.2,274.9 1267.1,275.5 1269.1,271.8 1271.0,271.1 1272.9,264.3 1274.8,257.9 1276.7,251.8 1278.6,244.5 1280.5,249.4 1282.4,253.7 1284.3,258.4 1286.2,264.3 1288.1,266.7 1290.0,271.1 1291.9,267.0 1293.8,264.6 1295.7,258.4 1297.6,254.9 1299.5,252.1 1301.4,254.7 1303.3,252.8 1305.2,253.3 1307.1,251.0 1309.0,253.3 1310.9,254.0 1312.6,257.0 1314.3,257.0 1316.0,262.5 1317.7,265.3 1319.4,267.3 1321.2,260.1 1322.9,257.8 1324.7,251.9 1326.4,247.9 1328.2,241.3 1329.9,236.9 1331.9,235.6 1333.9,233.4 1336.0,227.6 1338.0,225.5 1340.0,225.3 1341.9,224.6 1343.8,224.5 1345.7,219.5 1347.6,219.0 1349.5,217.7 1351.2,216.2 1353.0,213.0 1354.8,211.3 1356.5,209.2 1358.2,207.6 1360.0,206.3 1362.2,210.6 1364.4,212.9 1366.6,217.7 1368.5,221.9 1370.4,228.5 1372.3,229.7 1374.2,236.7 1376.1,240.8 1378.0,245.4 1379.9,247.2 1381.8,250.6 1383.7,257.2 1385.6,258.2 1387.5,263.3 1389.4,258.6 1391.3,256.7 1393.2,253.8 1395.1,252.9 1397.0,248.1 1398.9,247.2 1400.8,245.4 1402.7,244.3 1404.6,249.7 1406.5,251.6 1408.4,257.4 1410.3,259.5 1412.2,254.1 1414.1,251.1 1416.0,248.8 1417.9,246.1 1419.8,240.5 1421.7,243.6 1423.7,245.8 1425.6,248.7 1427.5,253.8 1429.4,253.9 1431.2,252.3 1433.1,255.3 1435.0,253.8 1436.5,249.7 1437.9,240.9 1439.3,235.6 1440.8,231.0 1442.7,233.1 1444.6,232.9 1446.5,234.4 1448.4,232.8 1450.3,232.4 1452.2,234.8 1454.1,236.0 1456.0,240.6 1457.9,240.4 1459.8,242.9 1461.7,245.5 1463.6,248.1 1465.5,242.0 1467.4,236.3 1469.3,233.0 1471.2,223.6 1473.1,217.2 1475.0,213.9 1476.7,214.5 1478.4,212.7 1480.1,211.7 1481.8,207.5 1483.5,206.3 1485.7,211.6 1488.0,214.7 1490.2,215.8 1492.1,215.2 1494.0,218.4 1495.9,219.6 1497.8,219.4 1499.7,219.5 1501.6,219.1 1503.5,220.0 1505.4,221.5 1507.3,219.2 1509.2,217.5 1511.1,219.1 1513.0,216.7 1514.9,218.2 1516.8,215.8 1518.7,218.7 1520.6,227.9 1522.5,231.9 1524.4,238.1 1526.3,243.0 1528.2,246.2 1530.1,244.0 1532.0,238.3 1533.9,231.5 1535.8,230.9 1537.7,224.0 1539.6,221.5 1541.5,221.8 1543.4,224.8 1545.3,225.4 1547.2,226.2 1549.1,229.9 1551.0,229.1 1552.9,223.0 1554.8,215.0 1556.7,208.0 1558.6,202.5 1560.5,201.7 1562.4,197.3 1564.3,196.3 1566.2,191.7 1568.1,188.4 1570.0,187.3 1571.9,182.9 1573.8,179.7 1575.7,172.0 1577.6,170.5 1579.5,164.5 1581.4,164.6 1583.3,162.2 1585.2,160.4 1587.1,156.9 1589.0,157.6 1590.9,163.6 1592.9,167.8 1594.8,166.9 1596.7,172.1 1598.6,172.9 1600.5,174.8 1602.4,177.8 1604.3,181.3 1606.2,184.1 1608.1,187.6 1610.0,191.1 1611.9,197.7 1613.8,199.2 1615.7,204.6 1617.6,212.0 1619.5,212.6 1621.4,214.9 1623.3,217.1 1625.2,221.5" fill="none" stroke="#f5a3a3" stroke-width="4.4" stroke-linejoin="round"/>
<polyline points="1032.4,371.9 1034.1,372.9 1035.8,376.7 1037.5,378.1 1039.2,381.5 1040.9,383.3 1043.3,389.6 1045.7,394.7 1047.4,391.5 1049.1,390.1 1050.8,392.9 1052.5,389.0 1054.2,389.0 1056.1,385.8 1058.0,387.6 1059.9,383.2 1061.8,383.0 1063.7,379.4 1065.6,378.3 1067.5,375.7 1069.4,375.4 1071.3,379.2 1073.2,381.7 1075.1,381.4 1077.0,380.8 1078.9,381.0 1080.8,379.9 1082.7,376.3 1084.6,377.6 1086.5,376.5 1088.4,373.3 1090.3,369.5 1092.2,368.1 1094.1,364.7 1096.0,367.6 1097.9,364.5 1099.8,364.6 1101.7,362.4 1103.6,362.7 1105.5,360.4 1107.5,359.9 1109.4,355.8 1111.3,354.8 1113.2,358.6 1115.1,359.3 1117.0,364.0 1118.9,364.3 1120.8,361.3 1122.7,352.8 1124.6,348.2 1126.5,345.2 1128.4,340.8 1130.3,341.4 1132.2,335.8 1134.1,333.6 1136.0,330.0 1137.9,330.9 1139.8,333.8 1141.7,335.2 1143.6,337.6 1145.5,333.7 1147.4,331.7 1149.3,328.5 1151.2,326.9 1153.1,322.6 1155.0,318.6 1156.9,320.7 1158.8,320.3 1160.7,321.0 1162.6,319.4 1164.5,317.0 1166.4,318.6 1168.3,325.1 1170.2,330.3 1172.1,334.8 1174.0,337.6 1175.7,331.5 1177.4,325.7 1179.1,316.8 1180.8,313.4 1182.5,305.3 1184.7,310.1 1187.0,313.1 1189.2,318.6 1191.1,315.1 1193.0,317.4 1194.9,316.7 1196.8,312.9 1198.7,312.8 1200.6,318.1 1202.5,318.2 1204.4,320.5 1206.3,314.1 1208.2,310.0 1210.1,307.5 1212.0,301.5 1213.9,302.5 1215.8,297.8 1217.7,299.8 1219.6,296.3 1221.5,297.7 1223.9,292.1 1226.3,284.4 1228.0,285.8 1229.8,290.7 1231.5,293.4 1233.2,293.3 1235.0,297.9 1236.7,297.7 1238.6,294.9 1240.5,291.9 1242.4,292.5 1244.3,290.1 1246.2,284.4 1248.1,281.8 1250.0,279.4 1251.9,277.0 1253.8,273.0 1255.7,271.7 1257.6,271.4 1259.5,275.7 1261.4,273.4 1263.3,276.8 1265.2,274.9 1267.1,275.5 1269.1,271.8 1271.0,271.1 1272.9,264.3 1274.8,257.9 1276.7,251.8 1278.6,244.5 1280.5,249.4 1282.4,253.7 1284.3,258.4 1286.2,264.3 1288.1,266.7 1290.0,271.1 1291.9,267.0 1293.8,264.6 1295.7,258.4 1297.6,254.9 1299.5,252.1 1301.4,254.7 1303.3,252.8 1305.2,253.3 1307.1,251.0 1309.0,253.3 1310.9,254.0 1312.6,257.0 1314.3,257.0 1316.0,262.5 1317.7,265.3 1319.4,267.3 1321.2,260.1 1322.9,257.8 1324.7,251.9 1326.4,247.9 1328.2,241.3 1329.9,236.9 1331.9,235.6 1333.9,233.4 1336.0,227.6 1338.0,225.5 1340.0,225.3 1341.9,224.6 1343.8,224.5 1345.7,219.5 1347.6,219.0 1349.5,217.7 1351.2,216.2 1353.0,213.0 1354.8,211.3 1356.5,209.2 1358.2,207.6 1360.0,206.3 1362.2,210.6 1364.4,212.9 1366.6,217.7 1368.5,221.9 1370.4,228.5 1372.3,229.7 1374.2,236.7 1376.1,240.8 1378.0,245.4 1379.9,247.2 1381.8,250.6 1383.7,257.2 1385.6,258.2 1387.5,263.3 1389.4,258.6 1391.3,256.7 1393.2,253.8 1395.1,252.9 1397.0,248.1 1398.9,247.2 1400.8,245.4 1402.7,244.3 1404.6,249.7 1406.5,251.6 1408.4,257.4 1410.3,259.5 1412.2,254.1 1414.1,251.1 1416.0,248.8 1417.9,246.1 1419.8,240.5 1421.7,243.6 1423.7,245.8 1425.6,248.7 1427.5,253.8 1429.4,253.9 1431.2,252.3 1433.1,255.3 1435.0,253.8 1436.5,249.7 1437.9,240.9 1439.3,235.6 1440.8,231.0 1442.7,233.1 1444.6,232.9 1446.5,234.4 1448.4,232.8 1450.3,232.4 1452.2,234.8 1454.1,236.0 1456.0,240.6 1457.9,240.4 1459.8,242.9 1461.7,245.5 1463.6,248.1 1465.5,242.0 1467.4,236.3 1469.3,233.0 1471.2,223.6 1473.1,217.2 1475.0,213.9 1476.7,214.5 1478.4,212.7 1480.1,211.7 1481.8,207.5 1483.5,206.3 1485.7,211.6 1488.0,214.7 1490.2,215.8 1492.1,215.2 1494.0,218.4 1495.9,219.6 1497.8,219.4 1499.7,219.5 1501.6,219.1 1503.5,220.0 1505.4,221.5 1507.3,219.2 1509.2,217.5 1511.1,219.1 1513.0,216.7 1514.9,218.2 1516.8,215.8 1518.7,218.7 1520.6,227.9 1522.5,231.9 1524.4,238.1 1526.3,243.0 1528.2,246.2 1530.1,244.0 1532.0,238.3 1533.9,231.5 1535.8,230.9 1537.7,224.0 1539.6,221.5 1541.5,221.8 1543.4,224.8 1545.3,225.4 1547.2,226.2 1549.1,229.9 1551.0,229.1 1552.9,223.0 1554.8,215.0 1556.7,208.0 1558.6,202.5 1560.5,201.7 1562.4,197.3 1564.3,196.3 1566.2,191.7 1568.1,188.4 1570.0,187.3 1571.9,182.9 1573.8,179.7 1575.7,172.0 1577.6,170.5 1579.5,164.5 1581.4,164.6 1583.3,162.2 1585.2,160.4 1587.1,156.9 1589.0,157.6 1590.9,163.6 1592.9,167.8 1594.8,166.9 1596.7,172.1 1598.6,172.9 1600.5,174.8 1602.4,177.8 1604.3,181.3 1606.2,184.1 1608.1,187.6 1610.0,191.1 1611.9,197.7 1613.8,199.2 1615.7,204.6 1617.6,212.0 1619.5,212.6 1621.4,214.9 1623.3,217.1 1625.2,221.5" fill="none" stroke="#e81c1c" stroke-width="2.2" stroke-linejoin="round"/>
<rect x="1037.9" y="382.2" width="6" height="6" fill="#111" transform="rotate(35 1040.9 385.2)"/>
<rect x="1348.4" y="218.5" width="6" height="6" fill="#111" transform="rotate(35 1351.4 221.5)"/>
<rect x="1384.5" y="254.60000000000002" width="6" height="6" fill="#111" transform="rotate(35 1387.5 257.6)"/>
<rect x="1481.5" y="216.6" width="6" height="6" fill="#111" transform="rotate(35 1484.5 219.6)"/>
<rect x="1527.1" y="229.9" width="6" height="6" fill="#111" transform="rotate(35 1530.1 232.9)"/>
<rect x="1580.3" y="163.4" width="6" height="6" fill="#111" transform="rotate(35 1583.3 166.4)"/>
<rect x="1620.3" y="214.7" width="6" height="6" fill="#111" transform="rotate(35 1623.3 217.7)"/>
<rect x="1185.7" y="401.2" width="7" height="6" fill="#3ddc3d"/>
<rect x="1435.4" y="144.4" width="7" height="6" fill="#3ddc3d"/>
<rect x="1579.8" y="75.9" width="7" height="6" fill="#3ddc3d"/>
<line x1="1020.3" y1="9" x2="1020.3" y2="544.9" stroke="#888" stroke-width="4"/>
<line x1="1018.8" y1="543.4" x2="1685.1" y2="543.4" stroke="#5a5a5a" stroke-width="3.4"/>
<line x1="1683.6" y1="9" x2="1683.6" y2="544.9" stroke="#8f8f8f" stroke-width="4.5"/>
<line x1="1020.3" y1="543.4" x2="1030.3" y2="543.4" stroke="#4a4a4a" stroke-width="2.6"/>
<line x1="1020.3" y1="524.4" x2="1025.3" y2="524.4" stroke="#4a4a4a" stroke-width="2.6"/>
<line x1="1020.3" y1="505.3" x2="1030.3" y2="505.3" stroke="#4a4a4a" stroke-width="2.6"/>
<line x1="1020.3" y1="486.2" x2="1025.3" y2="486.2" stroke="#4a4a4a" stroke-width="2.6"/>
<line x1="1020.3" y1="467.2" x2="1030.3" y2="467.2" stroke="#4a4a4a" stroke-width="2.6"/>
<line x1="1020.3" y1="448.1" x2="1025.3" y2="448.1" stroke="#4a4a4a" stroke-width="2.6"/>
<line x1="1020.3" y1="429.1" x2="1030.3" y2="429.1" stroke="#4a4a4a" stroke-width="2.6"/>
<line x1="1020.3" y1="410.1" x2="1025.3" y2="410.1" stroke="#4a4a4a" stroke-width="2.6"/>
<line x1="1020.3" y1="391.0" x2="1030.3" y2="391.0" stroke="#4a4a4a" stroke-width="2.6"/>
<line x1="1020.3" y1="371.9" x2="1025.3" y2="371.9" stroke="#4a4a4a" stroke-width="2.6"/>
<line x1="1020.3" y1="352.9" x2="1030.3" y2="352.9" stroke="#4a4a4a" stroke-width="2.6"/>
<line x1="1020.3" y1="333.8" x2="1025.3" y2="333.8" stroke="#4a4a4a" stroke-width="2.6"/>
<line x1="1020.3" y1="314.8" x2="1030.3" y2="314.8" stroke="#4a4a4a" stroke-width="2.6"/>
<line x1="1020.3" y1="295.7" x2="1025.3" y2="295.7" stroke="#4a4a4a" stroke-width="2.6"/>
<line x1="1020.3" y1="276.7" x2="1030.3" y2="276.7" stroke="#4a4a4a" stroke-width="2.6"/>
<line x1="1020.3" y1="257.6" x2="1025.3" y2="257.6" stroke="#4a4a4a" stroke-width="2.6"/>
<line x1="1020.3" y1="238.6" x2="1030.3" y2="238.6" stroke="#4a4a4a" stroke-width="2.6"/>
<line x1="1020.3" y1="219.6" x2="1025.3" y2="219.6" stroke="#4a4a4a" stroke-width="2.6"/>
<line x1="1020.3" y1="200.5" x2="1030.3" y2="200.5" stroke="#4a4a4a" stroke-width="2.6"/>
<line x1="1020.3" y1="181.4" x2="1025.3" y2="181.4" stroke="#4a4a4a" stroke-width="2.6"/>
<line x1="1020.3" y1="162.4" x2="1030.3" y2="162.4" stroke="#4a4a4a" stroke-width="2.6"/>
<line x1="1020.3" y1="143.3" x2="1025.3" y2="143.3" stroke="#4a4a4a" stroke-width="2.6"/>
<line x1="1020.3" y1="124.3" x2="1030.3" y2="124.3" stroke="#4a4a4a" stroke-width="2.6"/>
<line x1="1020.3" y1="105.2" x2="1025.3" y2="105.2" stroke="#4a4a4a" stroke-width="2.6"/>
<line x1="1020.3" y1="86.2" x2="1030.3" y2="86.2" stroke="#4a4a4a" stroke-width="2.6"/>
<line x1="1020.3" y1="67.1" x2="1025.3" y2="67.1" stroke="#4a4a4a" stroke-width="2.6"/>
<line x1="1020.3" y1="48.1" x2="1030.3" y2="48.1" stroke="#4a4a4a" stroke-width="2.6"/>
<line x1="1020.3" y1="29.0" x2="1025.3" y2="29.0" stroke="#4a4a4a" stroke-width="2.6"/>
<line x1="1020.3" y1="10.0" x2="1030.3" y2="10.0" stroke="#4a4a4a" stroke-width="2.6"/>
<line x1="1683.6" y1="543.4" x2="1673.6" y2="543.4" stroke="#4a4a4a" stroke-width="2.6"/>
<line x1="1683.6" y1="520.2" x2="1678.6" y2="520.2" stroke="#4a4a4a" stroke-width="2.6"/>
<line x1="1683.6" y1="497.0" x2="1673.6" y2="497.0" stroke="#4a4a4a" stroke-width="2.6"/>
<line x1="1683.6" y1="473.8" x2="1678.6" y2="473.8" stroke="#4a4a4a" stroke-width="2.6"/>
<line x1="1683.6" y1="450.6" x2="1673.6" y2="450.6" stroke="#4a4a4a" stroke-width="2.6"/>
<line x1="1683.6" y1="427.4" x2="1678.6" y2="427.4" stroke="#4a4a4a" stroke-width="2.6"/>
<line x1="1683.6" y1="404.3" x2="1673.6" y2="404.3" stroke="#4a4a4a" stroke-width="2.6"/>
<line x1="1683.6" y1="381.1" x2="1678.6" y2="381.1" stroke="#4a4a4a" stroke-width="2.6"/>
<line x1="1683.6" y1="357.9" x2="1673.6" y2="357.9" stroke="#4a4a4a" stroke-width="2.6"/>
<line x1="1683.6" y1="334.7" x2="1678.6" y2="334.7" stroke="#4a4a4a" stroke-width="2.6"/>
<line x1="1683.6" y1="311.5" x2="1673.6" y2="311.5" stroke="#4a4a4a" stroke-width="2.6"/>
<line x1="1683.6" y1="288.3" x2="1678.6" y2="288.3" stroke="#4a4a4a" stroke-width="2.6"/>
<line x1="1683.6" y1="265.1" x2="1673.6" y2="265.1" stroke="#4a4a4a" stroke-width="2.6"/>
<line x1="1683.6" y1="241.9" x2="1678.6" y2="241.9" stroke="#4a4a4a" stroke-width="2.6"/>
<line x1="1683.6" y1="218.7" x2="1673.6" y2="218.7" stroke="#4a4a4a" stroke-width="2.6"/>
<line x1="1683.6" y1="195.5" x2="1678.6" y2="195.5" stroke="#4a4a4a" stroke-width="2.6"/>
<line x1="1683.6" y1="172.3" x2="1673.6" y2="172.3" stroke="#4a4a4a" stroke-width="2.6"/>
<line x1="1683.6" y1="149.1" x2="1678.6" y2="149.1" stroke="#4a4a4a" stroke-width="2.6"/>
<line x1="1683.6" y1="126.0" x2="1673.6" y2="126.0" stroke="#4a4a4a" stroke-width="2.6"/>
<line x1="1683.6" y1="102.8" x2="1678.6" y2="102.8" stroke="#4a4a4a" stroke-width="2.6"/>
<line x1="1683.6" y1="79.6" x2="1673.6" y2="79.6" stroke="#4a4a4a" stroke-width="2.6"/>
<line x1="1683.6" y1="56.4" x2="1678.6" y2="56.4" stroke="#4a4a4a" stroke-width="2.6"/>
<line x1="1683.6" y1="33.2" x2="1673.6" y2="33.2" stroke="#4a4a4a" stroke-width="2.6"/>
<line x1="1683.6" y1="10.0" x2="1678.6" y2="10.0" stroke="#4a4a4a" stroke-width="2.6"/>
<line x1="1034.8" y1="543.4" x2="1034.8" y2="533.4" stroke="#4a4a4a" stroke-width="2.6"/>
<line x1="1073.0" y1="543.4" x2="1073.0" y2="538.4" stroke="#4a4a4a" stroke-width="2.6"/>
<line x1="1111.2" y1="543.4" x2="1111.2" y2="533.4" stroke="#4a4a4a" stroke-width="2.6"/>
<line x1="1149.4" y1="543.4" x2="1149.4" y2="538.4" stroke="#4a4a4a" stroke-width="2.6"/>
<line x1="1187.6" y1="543.4" x2="1187.6" y2="533.4" stroke="#4a4a4a" stroke-width="2.6"/>
<line x1="1225.8" y1="543.4" x2="1225.8" y2="538.4" stroke="#4a4a4a" stroke-width="2.6"/>
<line x1="1264.0" y1="543.4" x2="1264.0" y2="533.4" stroke="#4a4a4a" stroke-width="2.6"/>
<line x1="1302.2" y1="543.4" x2="1302.2" y2="538.4" stroke="#4a4a4a" stroke-width="2.6"/>
<line x1="1340.4" y1="543.4" x2="1340.4" y2="533.4" stroke="#4a4a4a" stroke-width="2.6"/>
<line x1="1378.6" y1="543.4" x2="1378.6" y2="538.4" stroke="#4a4a4a" stroke-width="2.6"/>
<line x1="1416.8" y1="543.4" x2="1416.8" y2="533.4" stroke="#4a4a4a" stroke-width="2.6"/>
<line x1="1455.0" y1="543.4" x2="1455.0" y2="538.4" stroke="#4a4a4a" stroke-width="2.6"/>
<line x1="1493.2" y1="543.4" x2="1493.2" y2="533.4" stroke="#4a4a4a" stroke-width="2.6"/>
<line x1="1531.4" y1="543.4" x2="1531.4" y2="538.4" stroke="#4a4a4a" stroke-width="2.6"/>
<line x1="1569.6" y1="543.4" x2="1569.6" y2="533.4" stroke="#4a4a4a" stroke-width="2.6"/>
<line x1="1607.8" y1="543.4" x2="1607.8" y2="538.4" stroke="#4a4a4a" stroke-width="2.6"/>
<line x1="1646.0" y1="543.4" x2="1646.0" y2="533.4" stroke="#4a4a4a" stroke-width="2.6"/>
<line x1="1150.6" y1="514.9" x2="1230.8" y2="514.9" stroke="#e86a6a" stroke-width="3.2"/>
<line x1="1397.7" y1="514.9" x2="1477" y2="514.9" stroke="#666" stroke-width="3.2"/>
<rect x="124.8" y="785.8" width="133.0" height="517.6" fill="#fefaf8"/>
<rect x="257.8" y="785.8" width="426.2" height="517.6" fill="#fcfdf8"/>
<rect x="684" y="785.8" width="31.6" height="517.6" fill="#f6f6f7"/>
<line x1="124.8" y1="786.3" x2="715.6" y2="786.3" stroke="#ececec" stroke-width="1.5"/>
<line x1="715.6" y1="785.8" x2="715.6" y2="1303.4" stroke="#e2e2e2" stroke-width="4.5" stroke-dasharray="5,2"/>
<line x1="257.8" y1="785.8" x2="257.8" y2="1303.4" stroke="#bdbdbd" stroke-width="1.6" stroke-dasharray="4,3"/>
<line x1="504.6" y1="785.8" x2="504.6" y2="1303.4" stroke="#bdbdbd" stroke-width="1.6" stroke-dasharray="4,3"/>
<line x1="684" y1="785.8" x2="684" y2="1303.4" stroke="#bdbdbd" stroke-width="1.6" stroke-dasharray="4,3"/>
<line x1="715.6" y1="785.8" x2="715.6" y2="1303.4" stroke="#bdbdbd" stroke-width="1.6" stroke-dasharray="4,3"/>
<polyline points="171.0,1155.0 344.0,966.0" fill="none" stroke="#b0b0b0" stroke-width="1.2"/>
<polyline points="374.0,1026.0 447.0,962.0" fill="none" stroke="#b0b0b0" stroke-width="1.2"/>
<polyline points="500.0,1083.0 670.0,994.0" fill="none" stroke="#b0b0b0" stroke-width="1.2"/>
<polyline points="678.0,981.0 710.0,1058.0" fill="none" stroke="#b0b0b0" stroke-width="1.2"/>
<polyline points="140.8,1252.0 144.1,1250.6 147.5,1249.2 150.8,1248.4 154.2,1246.6 157.5,1245.8 160.9,1244.4 164.2,1243.3 167.3,1241.4 170.4,1240.4 173.5,1238.4 176.6,1237.3 179.8,1235.5 182.9,1234.0 186.0,1232.9 189.1,1231.8 192.2,1230.0 196.3,1228.5 200.4,1227.8 204.1,1225.4 207.8,1223.7 211.4,1221.9 215.1,1219.4 218.2,1217.5 221.3,1215.3 224.4,1213.8 227.4,1210.9 230.5,1209.7 233.6,1207.1 236.7,1205.3 239.7,1202.9 242.7,1200.9 245.7,1199.1 248.8,1197.6 251.8,1194.9 254.8,1193.3 257.8,1191.2 260.8,1189.1 263.8,1186.5 266.9,1184.4 269.9,1181.7 272.9,1179.4 275.9,1177.6 279.7,1173.5 283.5,1170.2 287.3,1166.2 290.6,1164.2 293.8,1162.2 297.1,1160.6 300.3,1158.6 303.6,1156.5 306.8,1155.1 310.1,1152.9 313.2,1150.5 316.3,1147.4 319.4,1145.2 322.5,1142.5 325.6,1140.3 328.8,1137.5 331.9,1134.5 335.0,1132.6 338.1,1129.1 341.2,1126.8 344.3,1124.3 347.5,1122.2 350.7,1119.3 354.0,1117.3 357.2,1114.5 360.4,1112.8 363.6,1110.5 366.9,1108.0 370.1,1106.0 373.3,1103.1 376.5,1101.1 379.8,1098.7 383.0,1096.3 386.2,1093.9 389.4,1091.6 392.5,1089.8 395.7,1087.7 398.9,1085.0 402.0,1083.0 405.2,1080.6 408.4,1077.3 411.5,1075.1 414.7,1072.1 417.9,1069.6 421.0,1066.6 424.2,1063.1 427.3,1060.4 430.5,1057.8 433.7,1054.3 436.8,1051.8 440.0,1049.0 443.2,1045.8 446.5,1042.9 449.7,1040.0 452.9,1037.9 456.1,1034.4 459.4,1031.6 462.6,1028.9 465.8,1026.6 469.1,1022.9 472.3,1020.5 475.5,1017.6 478.8,1014.8 482.0,1012.3 485.2,1009.4 488.5,1006.6 491.7,1003.2 494.9,1000.5 498.1,997.6 501.4,995.2 504.6,992.0 507.6,990.2 510.7,987.1 513.7,984.8 516.8,982.6 519.8,980.3 522.8,978.3 525.9,976.1 528.9,973.5 532.0,971.0 535.0,969.2 538.2,966.4 541.4,963.7 544.5,961.2 547.7,958.9 550.9,955.9 554.0,953.1 557.2,950.5 560.4,947.8 563.6,944.5 566.8,942.7 569.9,939.9 573.1,936.9 576.3,934.7 579.4,932.1 582.6,929.2 585.8,926.7 588.9,923.8 592.1,921.8 595.3,918.7 598.4,916.2 601.6,913.8 604.8,911.2 607.9,908.9 611.1,906.5 614.3,903.5 617.4,900.9 620.6,898.5 623.8,895.9 626.9,893.7 630.1,890.8 633.3,889.1 636.4,886.3 639.6,883.3 642.8,880.8 645.9,878.4 649.1,876.0 652.2,873.6 655.3,871.1 658.4,869.6 661.5,867.5 664.6,864.7 667.8,862.5 670.9,859.9 674.0,857.6 677.1,855.6 680.2,853.3 683.3,851.3 687.1,848.8 691.0,845.6 691.3,855.9 691.6,866.4 691.8,878.0 692.1,888.2 692.4,898.5 692.7,909.5 693.0,919.7 693.2,930.8 693.5,941.9 693.8,952.1 698.6,952.1 702.4,955.0 706.2,957.4 710.0,959.7" fill="none" stroke="#474747" stroke-width="2.6" stroke-linejoin="round"/>
<line x1="691" y1="845.6" x2="693.8" y2="952.1" stroke="#6a6a6a" stroke-width="4"/>
<polyline points="137.1,1149.0 139.0,1146.3 140.9,1146.4 142.8,1144.1 144.7,1143.3 146.6,1144.9 148.5,1146.2 150.4,1144.6 152.3,1145.5 154.2,1149.0 156.1,1150.6 158.0,1147.8 159.9,1147.7 161.8,1151.4 163.7,1148.9 165.6,1149.0 167.5,1151.9 169.4,1151.5 171.3,1153.5 173.2,1152.5 175.1,1156.1 177.0,1156.7 178.9,1157.1 180.8,1154.1 182.7,1153.7 184.6,1152.0 186.5,1147.8 188.4,1149.7 190.3,1147.1 192.2,1146.0 194.1,1143.0 196.0,1140.1 197.9,1142.5 199.8,1139.1 201.7,1137.6 203.6,1137.7 205.5,1137.5 207.4,1135.8 209.4,1135.8 211.3,1132.3 213.2,1131.9 214.1,1127.2 215.1,1119.3 216.1,1115.5 217.0,1107.2 218.9,1108.6 220.8,1104.5 222.7,1104.3 224.6,1104.3 226.5,1105.3 228.4,1101.2 230.3,1092.3 232.2,1086.3 234.1,1086.1 236.0,1083.8 237.9,1084.1 239.8,1082.7 241.7,1082.5 243.4,1078.7 245.1,1076.8 246.8,1073.8 248.5,1072.3 250.2,1068.2 252.0,1066.3 253.7,1062.9 255.4,1060.5 257.1,1056.0 258.8,1052.1 260.7,1049.9 262.6,1052.7 264.5,1052.7 266.4,1051.9 268.3,1049.7 270.2,1049.9 272.1,1048.3 274.0,1046.6 275.9,1049.3 277.8,1047.7 279.7,1046.0 281.6,1044.6 283.5,1046.4 285.4,1043.0 287.3,1038.6 289.2,1029.2 291.1,1027.6 293.0,1020.6 294.9,1016.0 296.8,1013.8 298.7,1014.1 300.6,1015.9 302.5,1014.1 304.4,1012.7 306.3,1005.6 308.2,1004.6 310.1,1003.9 312.0,999.9 313.9,1000.8 315.3,996.1 316.8,988.5 318.2,985.5 319.6,977.9 321.5,980.2 323.4,977.9 325.3,980.3 327.2,977.0 329.1,975.9 331.0,977.9 332.9,976.5 334.8,971.9 336.7,970.7 338.6,969.9 340.5,968.9 342.4,964.8 344.3,964.6 346.2,962.0 348.1,965.6 350.0,962.6 351.9,965.3 353.8,962.7 355.7,967.9 357.6,968.8 359.5,972.5 361.4,976.0 362.5,981.8 363.7,988.1 364.8,993.6 366.0,999.2 367.1,1004.6 369.0,1011.8 371.0,1020.0 372.9,1024.6 374.8,1031.2 376.7,1030.9 378.6,1032.3 380.5,1031.2 381.8,1023.6 383.0,1017.6 384.3,1012.2 386.2,1013.1 388.1,1009.5 390.0,1008.2 391.9,1006.5 393.8,998.9 395.7,995.6 397.6,991.2 399.5,985.6 401.4,987.7 403.3,995.0 405.2,998.9 407.1,991.9 409.0,983.7 410.1,987.7 411.3,996.5 412.4,1001.8 413.6,1008.9 414.7,1014.1 415.6,1007.0 416.6,1002.4 417.5,996.2 418.5,986.4 419.4,980.2 420.4,976.0 422.3,978.3 424.2,981.1 426.1,979.1 428.0,981.7 429.9,978.2 431.8,975.5 433.7,970.9 435.6,968.4 437.5,969.2 439.4,970.4 441.3,972.0 443.2,974.1 445.3,971.0 447.4,966.1 449.5,963.5 451.4,959.7 453.3,958.5 455.2,954.0 457.1,957.4 459.0,965.4 459.8,971.4 460.6,977.9 461.4,981.6 462.3,986.9 463.1,995.4 463.9,998.3 464.7,1005.3 466.6,1005.2 468.5,1007.8 470.4,1010.5 472.3,1011.0 474.2,1015.7 476.1,1024.3 478.0,1027.2 479.9,1031.1 481.8,1037.3 483.7,1039.5 485.6,1035.9 487.5,1034.6 489.4,1027.9 491.3,1026.2 491.7,1031.5 492.1,1039.2 492.6,1046.4 493.0,1050.5 493.4,1055.5 493.8,1061.2 494.3,1069.3 494.7,1073.8 495.1,1081.4 496.1,1090.5 497.0,1096.6 498.9,1094.9 500.8,1088.4 502.7,1085.6 504.6,1083.3 506.5,1086.7 508.4,1087.8 510.3,1090.5 512.2,1090.2 514.1,1091.0 516.0,1094.7 517.3,1086.7 518.5,1082.2 519.8,1073.8 521.7,1067.0 523.6,1061.7 525.6,1056.3 527.5,1051.0 529.4,1054.4 531.2,1058.2 533.1,1064.4 535.0,1066.2 536.9,1059.5 538.9,1053.7 540.8,1051.0 542.7,1053.1 544.6,1052.8 546.5,1053.3 548.4,1050.7 550.3,1051.0 552.2,1048.4 554.1,1043.5 556.0,1035.3 557.9,1031.9 559.8,1032.6 561.7,1032.6 563.6,1031.3 565.5,1030.1 567.4,1028.5 569.3,1028.3 571.2,1027.3 573.1,1028.1 575.0,1026.0 576.9,1028.5 578.8,1027.1 580.7,1029.6 582.6,1025.9 584.5,1028.1 586.7,1026.2 588.9,1021.4 591.1,1016.7 593.3,1025.1 595.6,1031.3 597.8,1035.7 599.7,1035.2 601.6,1031.3 603.5,1026.2 605.4,1026.2 607.3,1028.5 609.2,1026.9 611.1,1028.7 613.0,1031.5 614.9,1031.9 616.8,1032.0 618.7,1031.5 620.6,1034.0 622.5,1032.4 624.4,1031.1 626.3,1031.9 628.2,1033.9 630.1,1040.0 632.0,1041.4 633.5,1035.6 635.0,1031.4 636.6,1023.6 638.1,1017.1 639.6,1012.9 641.5,1013.1 643.4,1014.4 645.3,1012.9 647.2,1017.0 649.1,1024.3 651.0,1021.0 652.9,1016.8 654.8,1011.5 656.7,1005.3 658.6,1004.5 660.5,998.2 662.4,998.8 664.3,995.8 666.2,997.1 668.1,992.7 670.0,993.3 671.9,993.9 672.8,1000.4 673.8,1009.1 674.6,1003.5 675.3,997.3 676.1,991.9 676.8,987.6 677.6,980.6 679.5,983.0 681.4,988.0 683.3,993.1 685.2,999.6 686.7,1004.0 688.1,1009.9 689.5,1020.4 691.0,1024.3 692.9,1028.3 694.8,1026.9 696.7,1031.2 698.6,1032.5 700.5,1035.7 702.4,1041.8 704.3,1049.0 706.2,1056.7 708.1,1058.7 710.0,1059.6 711.9,1060.5" fill="none" stroke="#f5a3a3" stroke-width="4.4" stroke-linejoin="round"/>
<polyline points="137.1,1149.0 139.0,1146.3 140.9,1146.4 142.8,1144.1 144.7,1143.3 146.6,1144.9 148.5,1146.2 150.4,1144.6 152.3,1145.5 154.2,1149.0 156.1,1150.6 158.0,1147.8 159.9,1147.7 161.8,1151.4 163.7,1148.9 165.6,1149.0 167.5,1151.9 169.4,1151.5 171.3,1153.5 173.2,1152.5 175.1,1156.1 177.0,1156.7 178.9,1157.1 180.8,1154.1 182.7,1153.7 184.6,1152.0 186.5,1147.8 188.4,1149.7 190.3,1147.1 192.2,1146.0 194.1,1143.0 196.0,1140.1 197.9,1142.5 199.8,1139.1 201.7,1137.6 203.6,1137.7 205.5,1137.5 207.4,1135.8 209.4,1135.8 211.3,1132.3 213.2,1131.9 214.1,1127.2 215.1,1119.3 216.1,1115.5 217.0,1107.2 218.9,1108.6 220.8,1104.5 222.7,1104.3 224.6,1104.3 226.5,1105.3 228.4,1101.2 230.3,1092.3 232.2,1086.3 234.1,1086.1 236.0,1083.8 237.9,1084.1 239.8,1082.7 241.7,1082.5 243.4,1078.7 245.1,1076.8 246.8,1073.8 248.5,1072.3 250.2,1068.2 252.0,1066.3 253.7,1062.9 255.4,1060.5 257.1,1056.0 258.8,1052.1 260.7,1049.9 262.6,1052.7 264.5,1052.7 266.4,1051.9 268.3,1049.7 270.2,1049.9 272.1,1048.3 274.0,1046.6 275.9,1049.3 277.8,1047.7 279.7,1046.0 281.6,1044.6 283.5,1046.4 285.4,1043.0 287.3,1038.6 289.2,1029.2 291.1,1027.6 293.0,1020.6 294.9,1016.0 296.8,1013.8 298.7,1014.1 300.6,1015.9 302.5,1014.1 304.4,1012.7 306.3,1005.6 308.2,1004.6 310.1,1003.9 312.0,999.9 313.9,1000.8 315.3,996.1 316.8,988.5 318.2,985.5 319.6,977.9 321.5,980.2 323.4,977.9 325.3,980.3 327.2,977.0 329.1,975.9 331.0,977.9 332.9,976.5 334.8,971.9 336.7,970.7 338.6,969.9 340.5,968.9 342.4,964.8 344.3,964.6 346.2,962.0 348.1,965.6 350.0,962.6 351.9,965.3 353.8,962.7 355.7,967.9 357.6,968.8 359.5,972.5 361.4,976.0 362.5,981.8 363.7,988.1 364.8,993.6 366.0,999.2 367.1,1004.6 369.0,1011.8 371.0,1020.0 372.9,1024.6 374.8,1031.2 376.7,1030.9 378.6,1032.3 380.5,1031.2 381.8,1023.6 383.0,1017.6 384.3,1012.2 386.2,1013.1 388.1,1009.5 390.0,1008.2 391.9,1006.5 393.8,998.9 395.7,995.6 397.6,991.2 399.5,985.6 401.4,987.7 403.3,995.0 405.2,998.9 407.1,991.9 409.0,983.7 410.1,987.7 411.3,996.5 412.4,1001.8 413.6,1008.9 414.7,1014.1 415.6,1007.0 416.6,1002.4 417.5,996.2 418.5,986.4 419.4,980.2 420.4,976.0 422.3,978.3 424.2,981.1 426.1,979.1 428.0,981.7 429.9,978.2 431.8,975.5 433.7,970.9 435.6,968.4 437.5,969.2 439.4,970.4 441.3,972.0 443.2,974.1 445.3,971.0 447.4,966.1 449.5,963.5 451.4,959.7 453.3,958.5 455.2,954.0 457.1,957.4 459.0,965.4 459.8,971.4 460.6,977.9 461.4,981.6 462.3,986.9 463.1,995.4 463.9,998.3 464.7,1005.3 466.6,1005.2 468.5,1007.8 470.4,1010.5 472.3,1011.0 474.2,1015.7 476.1,1024.3 478.0,1027.2 479.9,1031.1 481.8,1037.3 483.7,1039.5 485.6,1035.9 487.5,1034.6 489.4,1027.9 491.3,1026.2 491.7,1031.5 492.1,1039.2 492.6,1046.4 493.0,1050.5 493.4,1055.5 493.8,1061.2 494.3,1069.3 494.7,1073.8 495.1,1081.4 496.1,1090.5 497.0,1096.6 498.9,1094.9 500.8,1088.4 502.7,1085.6 504.6,1083.3 506.5,1086.7 508.4,1087.8 510.3,1090.5 512.2,1090.2 514.1,1091.0 516.0,1094.7 517.3,1086.7 518.5,1082.2 519.8,1073.8 521.7,1067.0 523.6,1061.7 525.6,1056.3 527.5,1051.0 529.4,1054.4 531.2,1058.2 533.1,1064.4 535.0,1066.2 536.9,1059.5 538.9,1053.7 540.8,1051.0 542.7,1053.1 544.6,1052.8 546.5,1053.3 548.4,1050.7 550.3,1051.0 552.2,1048.4 554.1,1043.5 556.0,1035.3 557.9,1031.9 559.8,1032.6 561.7,1032.6 563.6,1031.3 565.5,1030.1 567.4,1028.5 569.3,1028.3 571.2,1027.3 573.1,1028.1 575.0,1026.0 576.9,1028.5 578.8,1027.1 580.7,1029.6 582.6,1025.9 584.5,1028.1 586.7,1026.2 588.9,1021.4 591.1,1016.7 593.3,1025.1 595.6,1031.3 597.8,1035.7 599.7,1035.2 601.6,1031.3 603.5,1026.2 605.4,1026.2 607.3,1028.5 609.2,1026.9 611.1,1028.7 613.0,1031.5 614.9,1031.9 616.8,1032.0 618.7,1031.5 620.6,1034.0 622.5,1032.4 624.4,1031.1 626.3,1031.9 628.2,1033.9 630.1,1040.0 632.0,1041.4 633.5,1035.6 635.0,1031.4 636.6,1023.6 638.1,1017.1 639.6,1012.9 641.5,1013.1 643.4,1014.4 645.3,1012.9 647.2,1017.0 649.1,1024.3 651.0,1021.0 652.9,1016.8 654.8,1011.5 656.7,1005.3 658.6,1004.5 660.5,998.2 662.4,998.8 664.3,995.8 666.2,997.1 668.1,992.7 670.0,993.3 671.9,993.9 672.8,1000.4 673.8,1009.1 674.6,1003.5 675.3,997.3 676.1,991.9 676.8,987.6 677.6,980.6 679.5,983.0 681.4,988.0 683.3,993.1 685.2,999.6 686.7,1004.0 688.1,1009.9 689.5,1020.4 691.0,1024.3 692.9,1028.3 694.8,1026.9 696.7,1031.2 698.6,1032.5 700.5,1035.7 702.4,1041.8 704.3,1049.0 706.2,1056.7 708.1,1058.7 710.0,1059.6 711.9,1060.5" fill="none" stroke="#e81c1c" stroke-width="2.2" stroke-linejoin="round"/>
<rect x="168.3" y="1151.8" width="6" height="6" fill="#111" transform="rotate(35 171.3 1154.8)"/>
<rect x="341.3" y="963.5" width="6" height="6" fill="#111" transform="rotate(35 344.3 966.5)"/>
<rect x="370.8" y="1022.5" width="6" height="6" fill="#111" transform="rotate(35 373.8 1025.5)"/>
<rect x="443.7" y="958.6" width="6" height="6" fill="#111" transform="rotate(35 446.7 961.6)"/>
<rect x="496.9" y="1080.3" width="6" height="6" fill="#111" transform="rotate(35 499.9 1083.3)"/>
<rect x="667" y="990.9" width="6" height="6" fill="#111" transform="rotate(35 670 993.9)"/>
<rect x="707" y="1055.6" width="6" height="6" fill="#111" transform="rotate(35 710 1058.6)"/>
<rect x="254.3" y="1188.2" width="7" height="6" fill="#3ddc3d"/>
<rect x="501.1" y="989" width="7" height="6" fill="#3ddc3d"/>
<rect x="679.8" y="848.3" width="7" height="6" fill="#3ddc3d"/>
<line x1="124.8" y1="784.8" x2="124.8" y2="1304.9" stroke="#444" stroke-width="3"/>
<line x1="123.3" y1="1303.4" x2="771.8" y2="1303.4" stroke="#444" stroke-width="3"/>
<line x1="770.3" y1="784.8" x2="770.3" y2="1304.9" stroke="#6e6e6e" stroke-width="3.5"/>
<line x1="124.8" y1="1303.4" x2="134.8" y2="1303.4" stroke="#4a4a4a" stroke-width="2.6"/>
<line x1="124.8" y1="1271.1" x2="129.8" y2="1271.1" stroke="#4a4a4a" stroke-width="2.6"/>
<line x1="124.8" y1="1238.7" x2="134.8" y2="1238.7" stroke="#4a4a4a" stroke-width="2.6"/>
<line x1="124.8" y1="1206.3" x2="129.8" y2="1206.3" stroke="#4a4a4a" stroke-width="2.6"/>
<line x1="124.8" y1="1174.0" x2="134.8" y2="1174.0" stroke="#4a4a4a" stroke-width="2.6"/>
<line x1="124.8" y1="1141.6" x2="129.8" y2="1141.6" stroke="#4a4a4a" stroke-width="2.6"/>
<line x1="124.8" y1="1109.3" x2="134.8" y2="1109.3" stroke="#4a4a4a" stroke-width="2.6"/>
<line x1="124.8" y1="1077.0" x2="129.8" y2="1077.0" stroke="#4a4a4a" stroke-width="2.6"/>
<line x1="124.8" y1="1044.6" x2="134.8" y2="1044.6" stroke="#4a4a4a" stroke-width="2.6"/>
<line x1="124.8" y1="1012.2" x2="129.8" y2="1012.2" stroke="#4a4a4a" stroke-width="2.6"/>
<line x1="124.8" y1="979.9" x2="134.8" y2="979.9" stroke="#4a4a4a" stroke-width="2.6"/>
<line x1="124.8" y1="947.6" x2="129.8" y2="947.6" stroke="#4a4a4a" stroke-width="2.6"/>
<line x1="124.8" y1="915.2" x2="134.8" y2="915.2" stroke="#4a4a4a" stroke-width="2.6"/>
<line x1="124.8" y1="882.8" x2="129.8" y2="882.8" stroke="#4a4a4a" stroke-width="2.6"/>
<line x1="124.8" y1="850.5" x2="134.8" y2="850.5" stroke="#4a4a4a" stroke-width="2.6"/>
<line x1="124.8" y1="818.1" x2="129.8" y2="818.1" stroke="#4a4a4a" stroke-width="2.6"/>
<line x1="124.8" y1="785.8" x2="134.8" y2="785.8" stroke="#4a4a4a" stroke-width="2.6"/>
<line x1="770.3" y1="1303.4" x2="765.3" y2="1303.4" stroke="#4a4a4a" stroke-width="2.6"/>
<line x1="770.3" y1="1251.6" x2="760.3" y2="1251.6" stroke="#4a4a4a" stroke-width="2.6"/>
<line x1="770.3" y1="1199.9" x2="765.3" y2="1199.9" stroke="#4a4a4a" stroke-width="2.6"/>
<line x1="770.3" y1="1148.1" x2="760.3" y2="1148.1" stroke="#4a4a4a" stroke-width="2.6"/>
<line x1="770.3" y1="1096.4" x2="765.3" y2="1096.4" stroke="#4a4a4a" stroke-width="2.6"/>
<line x1="770.3" y1="1044.6" x2="760.3" y2="1044.6" stroke="#4a4a4a" stroke-width="2.6"/>
<line x1="770.3" y1="992.8" x2="765.3" y2="992.8" stroke="#4a4a4a" stroke-width="2.6"/>
<line x1="770.3" y1="941.1" x2="760.3" y2="941.1" stroke="#4a4a4a" stroke-width="2.6"/>
<line x1="770.3" y1="889.3" x2="765.3" y2="889.3" stroke="#4a4a4a" stroke-width="2.6"/>
<line x1="770.3" y1="837.6" x2="760.3" y2="837.6" stroke="#4a4a4a" stroke-width="2.6"/>
<line x1="770.3" y1="785.8" x2="765.3" y2="785.8" stroke="#4a4a4a" stroke-width="2.6"/>
<line x1="135.8" y1="1303.4" x2="135.8" y2="1293.4" stroke="#4a4a4a" stroke-width="2.6"/>
<line x1="166.1" y1="1303.4" x2="166.1" y2="1298.4" stroke="#4a4a4a" stroke-width="2.6"/>
<line x1="196.3" y1="1303.4" x2="196.3" y2="1293.4" stroke="#4a4a4a" stroke-width="2.6"/>
<line x1="226.6" y1="1303.4" x2="226.6" y2="1298.4" stroke="#4a4a4a" stroke-width="2.6"/>
<line x1="256.8" y1="1303.4" x2="256.8" y2="1293.4" stroke="#4a4a4a" stroke-width="2.6"/>
<line x1="287.1" y1="1303.4" x2="287.1" y2="1298.4" stroke="#4a4a4a" stroke-width="2.6"/>
<line x1="317.3" y1="1303.4" x2="317.3" y2="1293.4" stroke="#4a4a4a" stroke-width="2.6"/>
<line x1="347.6" y1="1303.4" x2="347.6" y2="1298.4" stroke="#4a4a4a" stroke-width="2.6"/>
<line x1="377.8" y1="1303.4" x2="377.8" y2="1293.4" stroke="#4a4a4a" stroke-width="2.6"/>
<line x1="408.1" y1="1303.4" x2="408.1" y2="1298.4" stroke="#4a4a4a" stroke-width="2.6"/>
<line x1="438.3" y1="1303.4" x2="438.3" y2="1293.4" stroke="#4a4a4a" stroke-width="2.6"/>
<line x1="468.6" y1="1303.4" x2="468.6" y2="1298.4" stroke="#4a4a4a" stroke-width="2.6"/>
<line x1="498.8" y1="1303.4" x2="498.8" y2="1293.4" stroke="#4a4a4a" stroke-width="2.6"/>
<line x1="529.0" y1="1303.4" x2="529.0" y2="1298.4" stroke="#4a4a4a" stroke-width="2.6"/>
<line x1="559.3" y1="1303.4" x2="559.3" y2="1293.4" stroke="#4a4a4a" stroke-width="2.6"/>
<line x1="589.5" y1="1303.4" x2="589.5" y2="1298.4" stroke="#4a4a4a" stroke-width="2.6"/>
<line x1="619.8" y1="1303.4" x2="619.8" y2="1293.4" stroke="#4a4a4a" stroke-width="2.6"/>
<line x1="650.0" y1="1303.4" x2="650.0" y2="1298.4" stroke="#4a4a4a" stroke-width="2.6"/>
<line x1="680.3" y1="1303.4" x2="680.3" y2="1293.4" stroke="#4a4a4a" stroke-width="2.6"/>
<line x1="710.5" y1="1303.4" x2="710.5" y2="1298.4" stroke="#4a4a4a" stroke-width="2.6"/>
<line x1="740.8" y1="1303.4" x2="740.8" y2="1293.4" stroke="#4a4a4a" stroke-width="2.6"/>
<line x1="237.4" y1="1271.7" x2="314.4" y2="1271.7" stroke="#e86a6a" stroke-width="3.2"/>
<line x1="486.2" y1="1271.7" x2="563.8" y2="1271.7" stroke="#666" stroke-width="3.2"/>
<rect x="1023.9" y="776.6" width="181.8" height="528.6" fill="#fefaf8"/>
<rect x="1205.7" y="776.6" width="345.5" height="528.6" fill="#fcfdf8"/>
<rect x="1551.2" y="776.6" width="65.8" height="528.6" fill="#f6f6f7"/>
<line x1="1023.9" y1="777.1" x2="1617" y2="777.1" stroke="#ececec" stroke-width="1.5"/>
<line x1="1617" y1="776.6" x2="1617" y2="1305.2" stroke="#e2e2e2" stroke-width="4.5" stroke-dasharray="5,2"/>
<line x1="1205.7" y1="776.6" x2="1205.7" y2="1305.2" stroke="#bdbdbd" stroke-width="1.6" stroke-dasharray="4,3"/>
<line x1="1460.5" y1="776.6" x2="1460.5" y2="1305.2" stroke="#bdbdbd" stroke-width="1.6" stroke-dasharray="4,3"/>
<line x1="1551.2" y1="776.6" x2="1551.2" y2="1305.2" stroke="#bdbdbd" stroke-width="1.6" stroke-dasharray="4,3"/>
<line x1="1617" y1="776.6" x2="1617" y2="1305.2" stroke="#bdbdbd" stroke-width="1.6" stroke-dasharray="4,3"/>
<polyline points="1040.0,1021.0 1172.0,1167.0" fill="none" stroke="#b0b0b0" stroke-width="1.2"/>
<polyline points="1178.0,1175.0 1332.0,977.0" fill="none" stroke="#b0b0b0" stroke-width="1.2"/>
<polyline points="1368.0,987.0 1414.0,964.0" fill="none" stroke="#b0b0b0" stroke-width="1.2"/>
<polyline points="1456.0,978.0 1532.0,957.0" fill="none" stroke="#b0b0b0" stroke-width="1.2"/>
<polyline points="1532.0,957.0 1606.0,1004.0" fill="none" stroke="#b0b0b0" stroke-width="1.2"/>
<polyline points="1039.8,1216.0 1042.8,1215.0 1045.9,1213.9 1048.9,1213.6 1051.9,1212.1 1054.9,1211.7 1058.0,1210.7 1061.0,1209.5 1064.0,1209.1 1067.1,1207.8 1070.1,1207.4 1073.3,1205.8 1076.6,1203.9 1079.8,1202.5 1083.0,1201.3 1086.3,1200.2 1089.5,1197.9 1092.8,1196.5 1096.0,1195.3 1099.1,1193.9 1102.3,1192.6 1105.4,1190.7 1108.6,1188.9 1111.7,1187.9 1114.9,1185.4 1118.0,1184.6 1121.2,1182.5 1124.3,1180.8 1127.5,1179.2 1130.6,1178.0 1133.8,1176.0 1137.0,1174.7 1140.2,1172.2 1143.5,1170.8 1146.7,1169.0 1149.9,1166.9 1153.1,1165.2 1156.4,1161.9 1159.8,1158.1 1163.1,1154.8 1166.4,1151.9 1169.9,1150.0 1173.4,1148.9 1176.8,1147.1 1180.3,1145.4 1183.8,1144.1 1187.3,1142.4 1190.3,1139.8 1193.3,1137.1 1196.3,1135.0 1199.4,1132.4 1202.4,1129.4 1205.4,1127.1 1208.8,1125.0 1212.2,1122.8 1215.6,1121.0 1218.9,1118.6 1222.3,1116.0 1225.7,1114.6 1229.1,1111.9 1232.3,1109.6 1235.4,1108.0 1238.6,1106.5 1241.8,1104.0 1244.9,1102.4 1248.1,1100.0 1251.3,1098.8 1254.4,1097.0 1257.6,1094.8 1260.8,1091.7 1263.9,1088.8 1267.1,1085.3 1270.3,1083.5 1273.5,1082.3 1276.7,1080.6 1279.8,1079.0 1283.0,1077.3 1286.2,1075.8 1289.4,1073.3 1292.5,1070.5 1295.7,1067.2 1298.9,1064.6 1302.0,1061.1 1305.2,1058.7 1308.4,1057.3 1311.5,1055.7 1314.7,1054.4 1317.9,1052.7 1321.0,1050.6 1324.2,1049.2 1327.4,1046.6 1330.5,1044.4 1333.7,1041.2 1336.8,1039.2 1340.0,1036.7 1343.2,1033.7 1346.3,1030.9 1349.5,1028.2 1352.7,1026.2 1355.8,1022.9 1359.0,1020.3 1362.2,1017.7 1365.3,1015.5 1368.5,1012.1 1371.7,1009.7 1374.8,1007.1 1378.0,1004.4 1381.2,1002.6 1384.3,1000.3 1387.5,998.1 1390.7,995.3 1393.8,993.2 1397.0,991.0 1400.2,989.3 1403.3,987.1 1406.5,984.1 1409.7,981.9 1412.8,979.7 1416.0,977.8 1419.1,975.0 1422.3,972.6 1425.4,970.2 1428.5,967.2 1431.6,964.4 1434.8,962.2 1437.9,959.6 1441.0,957.2 1444.2,955.0 1447.3,952.2 1450.4,949.5 1453.5,947.0 1456.7,944.5 1459.8,941.7 1462.9,939.4 1466.0,938.3 1469.1,936.3 1472.2,934.5 1475.2,932.5 1478.3,930.2 1481.4,928.3 1484.5,926.5 1487.9,922.7 1491.3,919.8 1494.8,915.8 1498.2,912.4 1501.6,909.4 1504.9,907.7 1508.2,906.2 1511.6,905.0 1514.9,903.7 1517.9,901.0 1521.0,898.6 1524.0,896.5 1527.1,894.1 1530.1,892.2 1533.9,886.4 1537.7,880.8 1541.0,878.9 1544.3,878.3 1547.7,876.6 1551.0,875.1 1554.8,873.8 1558.6,873.2 1561.8,874.9 1564.9,876.8 1568.1,878.9 1571.6,878.4 1575.1,877.9 1578.5,878.3 1582.0,878.1 1585.5,877.3 1589.0,877.0 1593.8,878.9 1593.9,889.7 1594.0,900.0 1594.1,910.8 1594.2,921.9 1594.4,932.6 1594.5,943.9 1594.6,954.0 1594.7,964.6 1594.8,975.9 1598.6,979.2 1602.4,981.6 1605.6,981.6 1608.7,981.2 1611.9,981.6" fill="none" stroke="#474747" stroke-width="2.6" stroke-linejoin="round"/>
<line x1="1593.8" y1="878.9" x2="1594.8" y2="975.9" stroke="#6a6a6a" stroke-width="4"/>
<polyline points="1037.1,1020.7 1039.0,1019.4 1040.9,1020.9 1042.8,1020.7 1044.7,1023.2 1046.6,1027.5 1048.5,1030.2 1050.4,1022.6 1052.3,1029.9 1054.2,1033.8 1056.1,1040.2 1058.0,1049.2 1059.9,1052.2 1061.8,1050.9 1063.7,1052.2 1065.6,1054.9 1067.5,1053.0 1069.4,1046.2 1071.3,1043.7 1073.2,1037.8 1075.1,1040.2 1077.0,1043.5 1078.9,1045.4 1080.8,1050.7 1082.7,1060.0 1084.6,1066.3 1086.5,1065.7 1088.4,1061.7 1090.3,1060.3 1092.2,1056.8 1094.1,1059.0 1096.0,1057.6 1097.9,1062.3 1099.8,1062.5 1101.7,1067.7 1103.7,1071.0 1105.6,1074.5 1107.5,1081.5 1108.9,1089.0 1110.3,1092.8 1111.8,1099.7 1113.2,1104.3 1115.1,1108.0 1117.0,1109.1 1118.9,1110.0 1120.3,1117.7 1121.8,1120.9 1123.2,1128.6 1124.6,1132.9 1126.5,1135.2 1128.4,1140.1 1130.3,1140.5 1132.2,1138.5 1134.1,1130.9 1136.0,1129.0 1137.9,1129.2 1139.8,1131.5 1141.7,1137.0 1143.6,1136.7 1145.5,1137.5 1147.4,1139.6 1149.3,1139.2 1151.2,1141.3 1153.1,1142.4 1155.0,1145.7 1156.9,1149.3 1158.8,1154.2 1160.7,1157.6 1162.6,1159.6 1164.5,1162.7 1166.4,1163.2 1168.3,1166.0 1170.2,1167.2 1172.1,1167.1 1174.0,1172.6 1175.9,1174.3 1177.8,1176.6 1179.2,1169.3 1180.7,1166.9 1182.1,1161.7 1183.5,1153.8 1185.4,1151.3 1187.3,1145.3 1189.2,1140.5 1191.1,1138.4 1193.0,1132.8 1194.9,1131.0 1196.8,1131.3 1198.7,1128.8 1200.6,1127.1 1201.5,1119.4 1202.5,1113.8 1204.4,1109.8 1206.3,1111.7 1208.2,1110.5 1210.1,1106.2 1212.0,1100.4 1213.9,1100.0 1215.8,1094.8 1217.7,1091.8 1219.6,1088.1 1221.5,1087.2 1223.4,1090.0 1225.3,1096.1 1227.2,1098.6 1229.1,1098.0 1231.0,1091.7 1232.9,1092.0 1234.8,1089.1 1236.7,1089.8 1238.6,1095.8 1240.5,1096.8 1242.4,1100.5 1244.3,1099.5 1246.2,1097.1 1248.1,1092.0 1250.0,1089.1 1251.3,1085.2 1252.5,1075.5 1253.8,1070.1 1255.7,1061.4 1257.6,1056.8 1259.5,1051.6 1261.4,1043.2 1263.3,1038.2 1265.2,1034.0 1267.1,1035.5 1269.1,1038.3 1271.0,1038.0 1272.9,1041.6 1274.8,1033.7 1276.7,1032.0 1278.6,1023.6 1280.5,1021.0 1282.4,1013.1 1284.3,1016.9 1286.2,1016.3 1288.1,1018.6 1290.0,1020.7 1291.9,1017.9 1293.8,1015.7 1295.7,1012.6 1297.6,1009.3 1299.5,1009.6 1301.4,1009.9 1303.3,1011.4 1305.2,1009.3 1307.1,1009.0 1309.0,1010.4 1310.9,1009.3 1312.8,1006.8 1314.7,1005.8 1316.6,1005.5 1317.2,1013.9 1317.7,1017.8 1318.3,1024.0 1318.8,1027.5 1319.4,1035.9 1321.0,1029.2 1322.6,1023.6 1324.2,1016.9 1325.8,1008.9 1327.4,1006.1 1329.0,1000.4 1330.5,992.0 1332.1,989.0 1333.7,982.7 1335.6,977.5 1337.5,973.4 1339.4,967.5 1341.5,965.6 1343.5,966.0 1345.5,965.0 1347.6,962.6 1349.5,965.1 1351.4,970.0 1353.3,977.7 1355.2,981.6 1357.1,985.0 1359.0,982.7 1360.9,984.8 1362.8,986.6 1364.7,987.3 1366.6,987.4 1368.5,988.5 1370.4,989.3 1372.3,991.1 1374.2,987.9 1376.1,986.5 1378.0,983.5 1379.9,986.3 1381.8,991.1 1383.7,985.4 1385.6,982.3 1387.5,975.9 1389.4,974.4 1391.3,977.8 1393.2,979.3 1395.1,978.0 1397.0,979.7 1398.9,977.1 1400.8,978.6 1402.7,975.9 1404.6,970.8 1406.5,966.8 1408.4,964.5 1410.1,963.0 1411.8,963.2 1413.6,959.2 1415.3,959.1 1417.0,958.8 1419.2,961.2 1421.5,966.7 1423.7,968.3 1425.6,969.1 1427.5,972.3 1429.4,970.1 1431.3,972.1 1433.2,974.0 1435.1,972.8 1437.0,972.0 1438.9,968.1 1440.8,965.1 1442.7,964.5 1444.6,963.6 1446.5,966.4 1448.4,968.9 1450.3,969.7 1452.2,975.0 1454.1,975.9 1456.0,978.5 1457.9,976.3 1459.8,977.7 1461.7,979.7 1463.6,979.9 1465.5,977.8 1467.4,977.4 1469.3,973.9 1471.2,971.6 1473.1,972.1 1475.0,970.6 1476.9,972.6 1478.8,969.6 1480.7,969.5 1482.6,969.3 1484.5,968.9 1486.4,968.3 1488.3,968.3 1490.2,969.2 1492.1,964.5 1494.0,962.7 1495.9,966.1 1497.8,964.7 1499.7,964.1 1501.6,960.7 1503.5,960.4 1505.4,962.9 1507.3,962.8 1509.2,959.4 1511.1,961.9 1513.0,962.3 1514.9,960.7 1516.8,958.3 1518.7,954.5 1520.6,951.2 1522.5,951.3 1524.4,952.7 1526.3,953.3 1528.2,953.7 1530.1,956.9 1532.0,957.3 1533.9,955.9 1535.8,956.9 1537.7,964.1 1539.6,966.1 1541.5,974.0 1543.4,976.4 1545.3,975.9 1547.2,977.5 1549.1,975.9 1550.4,971.5 1551.6,965.2 1552.9,956.9 1554.8,959.8 1556.7,959.6 1558.6,964.5 1560.5,968.7 1562.4,969.0 1564.3,972.7 1566.2,977.4 1568.1,979.7 1570.0,982.4 1571.9,984.4 1573.8,989.4 1575.7,990.4 1577.6,991.6 1579.5,994.9 1581.4,991.8 1583.3,992.8 1585.2,989.1 1587.1,987.3 1589.0,987.2 1590.9,983.7 1592.9,981.6 1594.8,981.6 1596.7,983.7 1598.6,986.9 1600.5,985.7 1602.4,989.2 1604.3,998.2 1606.2,1004.4 1608.1,1009.0 1610.0,1010.9 1611.9,1012.0" fill="none" stroke="#f5a3a3" stroke-width="4.4" stroke-linejoin="round"/>
<polyline points="1037.1,1020.7 1039.0,1019.4 1040.9,1020.9 1042.8,1020.7 1044.7,1023.2 1046.6,1027.5 1048.5,1030.2 1050.4,1022.6 1052.3,1029.9 1054.2,1033.8 1056.1,1040.2 1058.0,1049.2 1059.9,1052.2 1061.8,1050.9 1063.7,1052.2 1065.6,1054.9 1067.5,1053.0 1069.4,1046.2 1071.3,1043.7 1073.2,1037.8 1075.1,1040.2 1077.0,1043.5 1078.9,1045.4 1080.8,1050.7 1082.7,1060.0 1084.6,1066.3 1086.5,1065.7 1088.4,1061.7 1090.3,1060.3 1092.2,1056.8 1094.1,1059.0 1096.0,1057.6 1097.9,1062.3 1099.8,1062.5 1101.7,1067.7 1103.7,1071.0 1105.6,1074.5 1107.5,1081.5 1108.9,1089.0 1110.3,1092.8 1111.8,1099.7 1113.2,1104.3 1115.1,1108.0 1117.0,1109.1 1118.9,1110.0 1120.3,1117.7 1121.8,1120.9 1123.2,1128.6 1124.6,1132.9 1126.5,1135.2 1128.4,1140.1 1130.3,1140.5 1132.2,1138.5 1134.1,1130.9 1136.0,1129.0 1137.9,1129.2 1139.8,1131.5 1141.7,1137.0 1143.6,1136.7 1145.5,1137.5 1147.4,1139.6 1149.3,1139.2 1151.2,1141.3 1153.1,1142.4 1155.0,1145.7 1156.9,1149.3 1158.8,1154.2 1160.7,1157.6 1162.6,1159.6 1164.5,1162.7 1166.4,1163.2 1168.3,1166.0 1170.2,1167.2 1172.1,1167.1 1174.0,1172.6 1175.9,1174.3 1177.8,1176.6 1179.2,1169.3 1180.7,1166.9 1182.1,1161.7 1183.5,1153.8 1185.4,1151.3 1187.3,1145.3 1189.2,1140.5 1191.1,1138.4 1193.0,1132.8 1194.9,1131.0 1196.8,1131.3 1198.7,1128.8 1200.6,1127.1 1201.5,1119.4 1202.5,1113.8 1204.4,1109.8 1206.3,1111.7 1208.2,1110.5 1210.1,1106.2 1212.0,1100.4 1213.9,1100.0 1215.8,1094.8 1217.7,1091.8 1219.6,1088.1 1221.5,1087.2 1223.4,1090.0 1225.3,1096.1 1227.2,1098.6 1229.1,1098.0 1231.0,1091.7 1232.9,1092.0 1234.8,1089.1 1236.7,1089.8 1238.6,1095.8 1240.5,1096.8 1242.4,1100.5 1244.3,1099.5 1246.2,1097.1 1248.1,1092.0 1250.0,1089.1 1251.3,1085.2 1252.5,1075.5 1253.8,1070.1 1255.7,1061.4 1257.6,1056.8 1259.5,1051.6 1261.4,1043.2 1263.3,1038.2 1265.2,1034.0 1267.1,1035.5 1269.1,1038.3 1271.0,1038.0 1272.9,1041.6 1274.8,1033.7 1276.7,1032.0 1278.6,1023.6 1280.5,1021.0 1282.4,1013.1 1284.3,1016.9 1286.2,1016.3 1288.1,1018.6 1290.0,1020.7 1291.9,1017.9 1293.8,1015.7 1295.7,1012.6 1297.6,1009.3 1299.5,1009.6 1301.4,1009.9 1303.3,1011.4 1305.2,1009.3 1307.1,1009.0 1309.0,1010.4 1310.9,1009.3 1312.8,1006.8 1314.7,1005.8 1316.6,1005.5 1317.2,1013.9 1317.7,1017.8 1318.3,1024.0 1318.8,1027.5 1319.4,1035.9 1321.0,1029.2 1322.6,1023.6 1324.2,1016.9 1325.8,1008.9 1327.4,1006.1 1329.0,1000.4 1330.5,992.0 1332.1,989.0 1333.7,982.7 1335.6,977.5 1337.5,973.4 1339.4,967.5 1341.5,965.6 1343.5,966.0 1345.5,965.0 1347.6,962.6 1349.5,965.1 1351.4,970.0 1353.3,977.7 1355.2,981.6 1357.1,985.0 1359.0,982.7 1360.9,984.8 1362.8,986.6 1364.7,987.3 1366.6,987.4 1368.5,988.5 1370.4,989.3 1372.3,991.1 1374.2,987.9 1376.1,986.5 1378.0,983.5 1379.9,986.3 1381.8,991.1 1383.7,985.4 1385.6,982.3 1387.5,975.9 1389.4,974.4 1391.3,977.8 1393.2,979.3 1395.1,978.0 1397.0,979.7 1398.9,977.1 1400.8,978.6 1402.7,975.9 1404.6,970.8 1406.5,966.8 1408.4,964.5 1410.1,963.0 1411.8,963.2 1413.6,959.2 1415.3,959.1 1417.0,958.8 1419.2,961.2 1421.5,966.7 1423.7,968.3 1425.6,969.1 1427.5,972.3 1429.4,970.1 1431.3,972.1 1433.2,974.0 1435.1,972.8 1437.0,972.0 1438.9,968.1 1440.8,965.1 1442.7,964.5 1444.6,963.6 1446.5,966.4 1448.4,968.9 1450.3,969.7 1452.2,975.0 1454.1,975.9 1456.0,978.5 1457.9,976.3 1459.8,977.7 1461.7,979.7 1463.6,979.9 1465.5,977.8 1467.4,977.4 1469.3,973.9 1471.2,971.6 1473.1,972.1 1475.0,970.6 1476.9,972.6 1478.8,969.6 1480.7,969.5 1482.6,969.3 1484.5,968.9 1486.4,968.3 1488.3,968.3 1490.2,969.2 1492.1,964.5 1494.0,962.7 1495.9,966.1 1497.8,964.7 1499.7,964.1 1501.6,960.7 1503.5,960.4 1505.4,962.9 1507.3,962.8 1509.2,959.4 1511.1,961.9 1513.0,962.3 1514.9,960.7 1516.8,958.3 1518.7,954.5 1520.6,951.2 1522.5,951.3 1524.4,952.7 1526.3,953.3 1528.2,953.7 1530.1,956.9 1532.0,957.3 1533.9,955.9 1535.8,956.9 1537.7,964.1 1539.6,966.1 1541.5,974.0 1543.4,976.4 1545.3,975.9 1547.2,977.5 1549.1,975.9 1550.4,971.5 1551.6,965.2 1552.9,956.9 1554.8,959.8 1556.7,959.6 1558.6,964.5 1560.5,968.7 1562.4,969.0 1564.3,972.7 1566.2,977.4 1568.1,979.7 1570.0,982.4 1571.9,984.4 1573.8,989.4 1575.7,990.4 1577.6,991.6 1579.5,994.9 1581.4,991.8 1583.3,992.8 1585.2,989.1 1587.1,987.3 1589.0,987.2 1590.9,983.7 1592.9,981.6 1594.8,981.6 1596.7,983.7 1598.6,986.9 1600.5,985.7 1602.4,989.2 1604.3,998.2 1606.2,1004.4 1608.1,1009.0 1610.0,1010.9 1611.9,1012.0" fill="none" stroke="#e81c1c" stroke-width="2.2" stroke-linejoin="round"/>
<rect x="1169.1" y="1164.1" width="6" height="6" fill="#111" transform="rotate(35 1172.1 1167.1)"/>
<rect x="1328.8" y="974" width="6" height="6" fill="#111" transform="rotate(35 1331.8 977)"/>
<rect x="1365.5" y="984.3" width="6" height="6" fill="#111" transform="rotate(35 1368.5 987.3)"/>
<rect x="1411.1" y="961.5" width="6" height="6" fill="#111" transform="rotate(35 1414.1 964.5)"/>
<rect x="1453" y="974.8" width="6" height="6" fill="#111" transform="rotate(35 1456 977.8)"/>
<rect x="1529" y="953.9" width="6" height="6" fill="#111" transform="rotate(35 1532 956.9)"/>
<rect x="1603.2" y="1001.4" width="6" height="6" fill="#111" transform="rotate(35 1606.2 1004.4)"/>
<rect x="1201.9" y="1124.1" width="7" height="6" fill="#3ddc3d"/>
<rect x="1456.3" y="938.7" width="7" height="6" fill="#3ddc3d"/>
<rect x="1547.5" y="872.1" width="7" height="6" fill="#3ddc3d"/>
<line x1="1023.9" y1="775.6" x2="1023.9" y2="1306.7" stroke="#3a3a3a" stroke-width="3"/>
<line x1="1022.4" y1="1305.2" x2="1678.3" y2="1305.2" stroke="#3a3a3a" stroke-width="3"/>
<line x1="1676.8" y1="775.6" x2="1676.8" y2="1306.7" stroke="#4a4a4a" stroke-width="3.5"/>
<line x1="1023.9" y1="1305.2" x2="1033.9" y2="1305.2" stroke="#4a4a4a" stroke-width="2.6"/>
<line x1="1023.9" y1="1267.4" x2="1028.9" y2="1267.4" stroke="#4a4a4a" stroke-width="2.6"/>
<line x1="1023.9" y1="1229.7" x2="1033.9" y2="1229.7" stroke="#4a4a4a" stroke-width="2.6"/>
<line x1="1023.9" y1="1191.9" x2="1028.9" y2="1191.9" stroke="#4a4a4a" stroke-width="2.6"/>
<line x1="1023.9" y1="1154.2" x2="1033.9" y2="1154.2" stroke="#4a4a4a" stroke-width="2.6"/>
<line x1="1023.9" y1="1116.4" x2="1028.9" y2="1116.4" stroke="#4a4a4a" stroke-width="2.6"/>
<line x1="1023.9" y1="1078.7" x2="1033.9" y2="1078.7" stroke="#4a4a4a" stroke-width="2.6"/>
<line x1="1023.9" y1="1040.9" x2="1028.9" y2="1040.9" stroke="#4a4a4a" stroke-width="2.6"/>
<line x1="1023.9" y1="1003.1" x2="1033.9" y2="1003.1" stroke="#4a4a4a" stroke-width="2.6"/>
<line x1="1023.9" y1="965.4" x2="1028.9" y2="965.4" stroke="#4a4a4a" stroke-width="2.6"/>
<line x1="1023.9" y1="927.6" x2="1033.9" y2="927.6" stroke="#4a4a4a" stroke-width="2.6"/>
<line x1="1023.9" y1="889.9" x2="1028.9" y2="889.9" stroke="#4a4a4a" stroke-width="2.6"/>
<line x1="1023.9" y1="852.1" x2="1033.9" y2="852.1" stroke="#4a4a4a" stroke-width="2.6"/>
<line x1="1023.9" y1="814.4" x2="1028.9" y2="814.4" stroke="#4a4a4a" stroke-width="2.6"/>
<line x1="1023.9" y1="776.6" x2="1033.9" y2="776.6" stroke="#4a4a4a" stroke-width="2.6"/>
<line x1="1676.8" y1="1305.2" x2="1666.8" y2="1305.2" stroke="#4a4a4a" stroke-width="2.6"/>
<line x1="1676.8" y1="1261.2" x2="1671.8" y2="1261.2" stroke="#4a4a4a" stroke-width="2.6"/>
<line x1="1676.8" y1="1217.1" x2="1666.8" y2="1217.1" stroke="#4a4a4a" stroke-width="2.6"/>
<line x1="1676.8" y1="1173.0" x2="1671.8" y2="1173.0" stroke="#4a4a4a" stroke-width="2.6"/>
<line x1="1676.8" y1="1129.0" x2="1666.8" y2="1129.0" stroke="#4a4a4a" stroke-width="2.6"/>
<line x1="1676.8" y1="1085.0" x2="1671.8" y2="1085.0" stroke="#4a4a4a" stroke-width="2.6"/>
<line x1="1676.8" y1="1040.9" x2="1666.8" y2="1040.9" stroke="#4a4a4a" stroke-width="2.6"/>
<line x1="1676.8" y1="996.9" x2="1671.8" y2="996.9" stroke="#4a4a4a" stroke-width="2.6"/>
<line x1="1676.8" y1="952.8" x2="1666.8" y2="952.8" stroke="#4a4a4a" stroke-width="2.6"/>
<line x1="1676.8" y1="908.8" x2="1671.8" y2="908.8" stroke="#4a4a4a" stroke-width="2.6"/>
<line x1="1676.8" y1="864.7" x2="1666.8" y2="864.7" stroke="#4a4a4a" stroke-width="2.6"/>
<line x1="1676.8" y1="820.7" x2="1671.8" y2="820.7" stroke="#4a4a4a" stroke-width="2.6"/>
<line x1="1676.8" y1="776.6" x2="1666.8" y2="776.6" stroke="#4a4a4a" stroke-width="2.6"/>
<line x1="1037.5" y1="1305.2" x2="1037.5" y2="1295.2" stroke="#4a4a4a" stroke-width="2.6"/>
<line x1="1104.9" y1="1305.2" x2="1104.9" y2="1300.2" stroke="#4a4a4a" stroke-width="2.6"/>
<line x1="1172.3" y1="1305.2" x2="1172.3" y2="1295.2" stroke="#4a4a4a" stroke-width="2.6"/>
<line x1="1239.7" y1="1305.2" x2="1239.7" y2="1300.2" stroke="#4a4a4a" stroke-width="2.6"/>
<line x1="1307.1" y1="1305.2" x2="1307.1" y2="1295.2" stroke="#4a4a4a" stroke-width="2.6"/>
<line x1="1374.5" y1="1305.2" x2="1374.5" y2="1300.2" stroke="#4a4a4a" stroke-width="2.6"/>
<line x1="1441.9" y1="1305.2" x2="1441.9" y2="1295.2" stroke="#4a4a4a" stroke-width="2.6"/>
<line x1="1509.3" y1="1305.2" x2="1509.3" y2="1300.2" stroke="#4a4a4a" stroke-width="2.6"/>
<line x1="1576.7" y1="1305.2" x2="1576.7" y2="1295.2" stroke="#4a4a4a" stroke-width="2.6"/>
<line x1="1150.6" y1="1276.4" x2="1228.9" y2="1276.4" stroke="#e86a6a" stroke-width="3.2"/>
<line x1="1402.5" y1="1276.4" x2="1481.7" y2="1276.4" stroke="#666" stroke-width="3.2"/>
<rect x="598.2" y="1535.8" width="131.7" height="506.8" fill="#fefaf8"/>
<rect x="729.9" y="1535.8" width="433.3" height="506.8" fill="#fcfdf8"/>
<rect x="1163.2" y="1535.8" width="37.5" height="506.8" fill="#f6f6f7"/>
<line x1="598.2" y1="1536.3" x2="1200.7" y2="1536.3" stroke="#ececec" stroke-width="1.5"/>
<line x1="729.9" y1="1535.8" x2="729.9" y2="2042.6" stroke="#bdbdbd" stroke-width="1.6" stroke-dasharray="4,3"/>
<line x1="975.7" y1="1535.8" x2="975.7" y2="2042.6" stroke="#bdbdbd" stroke-width="1.6" stroke-dasharray="4,3"/>
<line x1="1163.2" y1="1535.8" x2="1163.2" y2="2042.6" stroke="#bdbdbd" stroke-width="1.6" stroke-dasharray="4,3"/>
<line x1="1200.7" y1="1535.8" x2="1200.7" y2="2042.6" stroke="#bdbdbd" stroke-width="1.6" stroke-dasharray="4,3"/>
<polyline points="607.0,1690.0 684.0,1834.0" fill="none" stroke="#b0b0b0" stroke-width="1.2"/>
<polyline points="732.0,1777.0 844.0,1876.0" fill="none" stroke="#b0b0b0" stroke-width="1.2"/>
<polyline points="919.0,1810.0 962.0,1840.0" fill="none" stroke="#b0b0b0" stroke-width="1.2"/>
<polyline points="962.0,1840.0 1079.0,1814.0" fill="none" stroke="#b0b0b0" stroke-width="1.2"/>
<polyline points="1105.0,1800.0 1172.0,1715.0" fill="none" stroke="#b0b0b0" stroke-width="1.2"/>
<polyline points="1172.0,1715.0 1194.0,1766.0" fill="none" stroke="#b0b0b0" stroke-width="1.2"/>
<polyline points="606.0,2003.7 609.2,2001.5 612.4,1999.4 615.6,1997.9 618.8,1995.4 622.0,1993.9 625.2,1991.7 628.4,1989.4 631.6,1987.9 634.8,1985.5 638.0,1983.9 641.2,1981.5 644.4,1980.0 647.7,1977.5 651.0,1975.8 654.3,1974.2 657.5,1971.5 660.8,1969.5 664.1,1967.9 667.4,1965.7 670.5,1964.0 673.6,1961.4 676.6,1959.0 679.7,1957.4 682.8,1954.3 685.9,1952.9 689.0,1950.2 692.0,1947.9 695.1,1945.7 698.2,1943.7 701.3,1942.0 704.4,1939.2 707.4,1937.4 710.5,1935.2 713.6,1932.8 716.7,1930.8 719.8,1928.1 722.8,1925.9 725.9,1923.9 729.0,1922.0 732.1,1920.1 735.2,1917.7 738.4,1915.4 741.5,1913.6 744.6,1911.3 747.7,1909.1 750.8,1907.4 753.9,1905.2 757.0,1902.6 760.2,1900.9 763.3,1898.7 766.4,1896.9 769.5,1894.6 772.6,1892.1 775.8,1890.6 778.9,1887.7 782.0,1885.8 785.1,1883.8 788.1,1881.9 791.1,1879.1 794.1,1877.2 797.1,1874.5 800.1,1873.0 803.1,1870.9 806.1,1868.5 809.1,1866.6 812.1,1863.8 815.1,1862.0 818.1,1859.7 821.1,1857.5 824.1,1855.2 827.1,1853.3 830.1,1851.2 833.1,1848.6 836.1,1846.6 839.1,1843.8 842.1,1842.0 845.1,1839.6 848.1,1836.9 851.1,1834.7 854.1,1831.9 857.1,1828.8 860.1,1826.3 863.1,1824.0 866.1,1820.7 869.1,1818.6 872.2,1815.7 875.2,1813.0 878.2,1810.4 881.2,1808.5 884.2,1805.2 887.2,1802.7 890.2,1800.3 893.2,1798.2 896.2,1794.8 899.2,1792.6 902.4,1789.9 905.7,1787.4 908.9,1785.1 912.1,1782.5 915.3,1779.9 918.5,1776.7 921.8,1774.2 925.0,1771.7 928.1,1769.1 931.3,1767.2 934.4,1764.8 937.5,1761.5 940.7,1759.1 943.8,1756.7 946.9,1754.2 950.0,1752.0 953.2,1749.6 956.3,1746.8 959.4,1744.1 962.6,1742.1 965.7,1739.6 968.8,1737.3 972.0,1735.2 975.1,1732.3 978.1,1730.1 981.1,1727.5 984.1,1725.3 987.1,1722.9 990.2,1719.9 993.2,1718.4 996.2,1715.9 999.2,1713.6 1002.2,1711.2 1005.2,1708.4 1008.2,1706.0 1011.2,1703.3 1014.2,1701.5 1017.3,1698.5 1020.3,1696.1 1023.3,1693.9 1026.3,1691.5 1029.3,1689.2 1032.3,1686.6 1035.3,1684.1 1038.3,1681.9 1041.3,1679.5 1044.4,1677.4 1047.4,1674.6 1050.4,1673.1 1053.4,1670.5 1056.4,1667.6 1059.4,1665.3 1062.4,1663.0 1065.4,1660.7 1068.5,1658.0 1071.5,1656.4 1074.5,1654.2 1077.5,1651.2 1080.5,1648.9 1083.5,1646.1 1086.5,1643.7 1089.5,1641.6 1092.5,1639.1 1095.6,1637.3 1098.6,1634.3 1101.6,1631.7 1104.6,1630.3 1107.6,1627.5 1110.6,1624.7 1113.6,1622.7 1116.6,1619.8 1119.6,1617.9 1122.7,1616.0 1125.7,1613.5 1128.7,1611.0 1131.7,1608.1 1134.7,1606.0 1140.0,1603.5 1143.3,1604.0 1146.7,1604.5 1150.0,1605.5 1153.5,1604.4 1157.0,1602.8 1160.4,1601.7 1163.9,1600.0 1167.2,1598.2 1170.4,1596.5 1173.7,1595.5 1177.0,1594.1 1180.2,1592.4 1183.5,1590.7 1186.7,1589.1 1190.0,1587.2 1190.0,1597.5 1190.1,1607.0 1190.1,1617.3 1190.1,1627.2 1190.2,1636.9 1190.2,1646.9 1190.2,1657.2 1190.3,1667.2 1190.3,1677.7 1190.3,1688.0 1190.4,1697.5 1190.4,1708.0 1190.5,1718.1 1190.5,1728.1 1190.5,1737.5 1190.6,1747.4 1190.6,1757.4 1190.6,1767.5 1190.7,1777.5 1190.7,1787.9 1190.7,1798.2 1190.8,1808.2 1190.8,1817.9 1190.8,1828.1 1190.9,1838.3 1190.9,1848.0 1195.6,1855.6" fill="none" stroke="#474747" stroke-width="2.6" stroke-linejoin="round"/>
<line x1="1190" y1="1587.2" x2="1190.9" y2="1848" stroke="#6a6a6a" stroke-width="4"/>
<polyline points="602.6,1697.5 605.0,1690.5 607.4,1686.1 609.8,1690.1 612.1,1693.7 614.0,1693.6 615.9,1695.1 617.8,1695.7 619.7,1695.6 621.0,1699.2 622.2,1704.7 623.5,1712.7 625.4,1719.1 627.3,1722.2 628.4,1727.1 629.6,1733.1 630.7,1742.9 631.9,1746.5 633.0,1752.7 634.9,1756.2 636.8,1756.5 638.1,1762.1 639.3,1768.6 640.6,1773.6 642.5,1772.6 644.4,1775.5 646.3,1775.5 648.2,1781.1 650.1,1783.2 652.0,1786.9 653.5,1794.1 655.0,1799.9 656.6,1803.0 658.1,1812.5 659.6,1817.3 661.5,1813.9 663.4,1808.7 665.3,1805.9 667.2,1811.2 669.1,1821.1 671.0,1821.7 672.9,1818.7 674.9,1818.7 676.8,1818.4 678.7,1815.4 680.6,1823.1 682.5,1828.7 684.4,1835.5 686.3,1838.2 688.2,1835.3 690.1,1834.9 692.0,1830.8 693.9,1828.7 695.8,1827.9 697.7,1823.0 699.6,1828.0 701.5,1827.4 703.4,1832.5 704.8,1825.1 706.2,1819.7 707.7,1817.6 709.1,1809.7 711.0,1806.1 712.9,1803.7 714.8,1798.8 716.7,1796.4 718.0,1790.7 719.2,1784.5 720.5,1779.3 722.4,1778.0 724.3,1778.4 726.2,1777.8 728.1,1778.7 730.0,1777.0 731.9,1775.5 733.8,1776.4 735.7,1774.9 737.6,1774.4 739.5,1771.8 741.4,1769.8 742.8,1773.9 744.2,1782.9 745.7,1789.1 747.1,1792.6 749.0,1790.1 750.9,1784.1 752.8,1779.3 754.7,1779.6 756.6,1776.4 758.5,1778.6 760.4,1776.6 762.3,1775.5 764.2,1780.8 766.1,1786.1 768.0,1794.5 769.4,1801.9 770.9,1808.3 772.3,1809.6 773.7,1817.3 775.6,1822.5 777.5,1824.5 779.4,1828.7 781.3,1827.0 783.2,1827.7 785.1,1828.7 787.0,1828.7 788.9,1828.0 790.8,1822.7 792.7,1824.2 794.6,1820.2 796.5,1821.1 798.4,1829.1 800.3,1834.2 802.2,1842.0 804.1,1848.6 806.0,1853.8 807.9,1856.3 809.8,1861.0 811.7,1862.9 813.6,1859.1 815.5,1857.5 817.4,1859.1 819.3,1858.1 821.2,1853.8 823.1,1853.1 825.0,1852.6 826.9,1851.5 828.8,1855.8 830.7,1857.4 832.6,1862.9 834.5,1863.0 836.4,1869.2 838.3,1868.8 840.2,1874.2 842.1,1874.3 844.0,1877.6 846.0,1876.6 847.9,1878.4 849.8,1880.0 851.7,1874.9 853.6,1870.2 855.5,1864.8 857.4,1859.1 859.3,1859.4 861.2,1859.7 863.1,1861.2 865.0,1859.1 866.9,1859.1 868.8,1856.2 870.7,1855.1 872.6,1851.5 874.5,1855.2 876.4,1860.4 878.3,1868.6 880.2,1871.4 882.1,1876.2 883.6,1870.0 885.1,1860.9 886.7,1856.4 888.2,1850.7 889.7,1843.9 891.6,1840.5 893.5,1842.2 895.4,1841.1 897.3,1837.2 899.2,1838.2 901.3,1831.8 903.4,1823.9 905.5,1817.9 907.6,1810.0 909.5,1810.2 911.4,1812.9 913.3,1814.0 915.2,1813.8 917.1,1807.1 919.0,1802.8 920.9,1800.5 921.7,1807.0 922.5,1814.1 923.3,1816.4 924.2,1823.1 925.0,1829.4 925.8,1833.8 926.6,1840.4 928.5,1834.7 930.4,1829.4 932.3,1825.2 934.2,1829.3 936.1,1835.2 938.0,1838.5 939.9,1843.6 941.8,1850.3 943.7,1853.7 945.2,1845.3 946.7,1841.9 948.3,1836.6 949.8,1828.5 951.3,1823.3 953.2,1826.1 955.1,1833.1 957.0,1834.6 958.9,1838.5 960.8,1844.2 962.7,1843.5 964.6,1844.4 966.5,1841.1 968.4,1841.8 970.3,1842.3 972.2,1837.3 974.1,1835.5 976.0,1829.5 977.9,1827.3 979.8,1821.4 981.7,1818.9 983.6,1818.7 985.6,1819.3 987.5,1817.6 989.7,1812.5 991.9,1803.4 994.1,1796.7 996.3,1801.7 998.6,1807.5 1000.8,1815.7 1002.7,1816.7 1004.6,1815.8 1006.5,1819.6 1008.4,1820.6 1010.3,1818.3 1012.2,1819.5 1014.1,1821.4 1016.0,1822.1 1017.9,1820.6 1019.8,1820.6 1021.7,1817.6 1023.6,1817.6 1025.5,1816.6 1027.4,1818.1 1029.3,1821.3 1031.2,1819.5 1033.1,1821.4 1035.0,1816.9 1036.9,1813.4 1038.8,1809.6 1040.7,1806.2 1042.6,1804.8 1044.5,1806.3 1046.4,1801.7 1048.3,1802.4 1050.2,1803.8 1052.1,1812.1 1054.0,1815.6 1055.9,1817.6 1057.8,1818.0 1059.7,1813.5 1061.6,1814.1 1063.5,1812.1 1065.4,1808.1 1067.3,1813.1 1069.2,1821.9 1071.1,1827.1 1073.0,1825.4 1074.9,1821.2 1076.8,1817.2 1078.7,1813.8 1080.6,1809.9 1082.5,1807.3 1084.4,1803.9 1086.3,1802.4 1087.7,1807.0 1089.2,1816.1 1090.6,1821.3 1092.0,1829.0 1093.3,1824.0 1094.7,1813.9 1096.0,1811.6 1097.4,1804.1 1098.7,1796.7 1100.9,1803.2 1103.1,1807.5 1105.3,1810.0 1107.2,1812.3 1109.1,1811.1 1111.0,1808.8 1112.9,1812.7 1114.8,1811.9 1116.7,1805.9 1118.6,1802.1 1120.5,1798.6 1122.4,1798.0 1124.3,1795.9 1126.2,1793.9 1128.1,1792.9 1130.0,1797.4 1131.9,1798.2 1133.8,1799.3 1135.7,1802.4 1137.6,1796.9 1139.5,1795.5 1141.4,1789.4 1143.3,1785.2 1144.6,1780.9 1145.8,1773.1 1147.1,1768.1 1149.0,1768.5 1151.0,1772.1 1152.9,1773.8 1154.4,1768.9 1155.9,1759.3 1157.5,1755.8 1159.0,1750.0 1160.5,1741.5 1162.4,1740.4 1164.3,1738.0 1166.2,1733.9 1167.3,1725.1 1168.5,1721.6 1169.6,1716.3 1170.8,1705.9 1171.9,1701.6 1173.8,1706.8 1175.7,1713.2 1177.6,1720.6 1178.7,1727.2 1179.9,1733.2 1181.0,1739.8 1182.2,1747.8 1183.3,1752.9 1185.2,1748.0 1187.1,1745.7 1189.0,1745.3 1190.9,1749.8 1192.8,1756.2 1194.7,1764.3 1196.0,1770.0" fill="none" stroke="#f5a3a3" stroke-width="4.4" stroke-linejoin="round"/>
<polyline points="602.6,1697.5 605.0,1690.5 607.4,1686.1 609.8,1690.1 612.1,1693.7 614.0,1693.6 615.9,1695.1 617.8,1695.7 619.7,1695.6 621.0,1699.2 622.2,1704.7 623.5,1712.7 625.4,1719.1 627.3,1722.2 628.4,1727.1 629.6,1733.1 630.7,1742.9 631.9,1746.5 633.0,1752.7 634.9,1756.2 636.8,1756.5 638.1,1762.1 639.3,1768.6 640.6,1773.6 642.5,1772.6 644.4,1775.5 646.3,1775.5 648.2,1781.1 650.1,1783.2 652.0,1786.9 653.5,1794.1 655.0,1799.9 656.6,1803.0 658.1,1812.5 659.6,1817.3 661.5,1813.9 663.4,1808.7 665.3,1805.9 667.2,1811.2 669.1,1821.1 671.0,1821.7 672.9,1818.7 674.9,1818.7 676.8,1818.4 678.7,1815.4 680.6,1823.1 682.5,1828.7 684.4,1835.5 686.3,1838.2 688.2,1835.3 690.1,1834.9 692.0,1830.8 693.9,1828.7 695.8,1827.9 697.7,1823.0 699.6,1828.0 701.5,1827.4 703.4,1832.5 704.8,1825.1 706.2,1819.7 707.7,1817.6 709.1,1809.7 711.0,1806.1 712.9,1803.7 714.8,1798.8 716.7,1796.4 718.0,1790.7 719.2,1784.5 720.5,1779.3 722.4,1778.0 724.3,1778.4 726.2,1777.8 728.1,1778.7 730.0,1777.0 731.9,1775.5 733.8,1776.4 735.7,1774.9 737.6,1774.4 739.5,1771.8 741.4,1769.8 742.8,1773.9 744.2,1782.9 745.7,1789.1 747.1,1792.6 749.0,1790.1 750.9,1784.1 752.8,1779.3 754.7,1779.6 756.6,1776.4 758.5,1778.6 760.4,1776.6 762.3,1775.5 764.2,1780.8 766.1,1786.1 768.0,1794.5 769.4,1801.9 770.9,1808.3 772.3,1809.6 773.7,1817.3 775.6,1822.5 777.5,1824.5 779.4,1828.7 781.3,1827.0 783.2,1827.7 785.1,1828.7 787.0,1828.7 788.9,1828.0 790.8,1822.7 792.7,1824.2 794.6,1820.2 796.5,1821.1 798.4,1829.1 800.3,1834.2 802.2,1842.0 804.1,1848.6 806.0,1853.8 807.9,1856.3 809.8,1861.0 811.7,1862.9 813.6,1859.1 815.5,1857.5 817.4,1859.1 819.3,1858.1 821.2,1853.8 823.1,1853.1 825.0,1852.6 826.9,1851.5 828.8,1855.8 830.7,1857.4 832.6,1862.9 834.5,1863.0 836.4,1869.2 838.3,1868.8 840.2,1874.2 842.1,1874.3 844.0,1877.6 846.0,1876.6 847.9,1878.4 849.8,1880.0 851.7,1874.9 853.6,1870.2 855.5,1864.8 857.4,1859.1 859.3,1859.4 861.2,1859.7 863.1,1861.2 865.0,1859.1 866.9,1859.1 868.8,1856.2 870.7,1855.1 872.6,1851.5 874.5,1855.2 876.4,1860.4 878.3,1868.6 880.2,1871.4 882.1,1876.2 883.6,1870.0 885.1,1860.9 886.7,1856.4 888.2,1850.7 889.7,1843.9 891.6,1840.5 893.5,1842.2 895.4,1841.1 897.3,1837.2 899.2,1838.2 901.3,1831.8 903.4,1823.9 905.5,1817.9 907.6,1810.0 909.5,1810.2 911.4,1812.9 913.3,1814.0 915.2,1813.8 917.1,1807.1 919.0,1802.8 920.9,1800.5 921.7,1807.0 922.5,1814.1 923.3,1816.4 924.2,1823.1 925.0,1829.4 925.8,1833.8 926.6,1840.4 928.5,1834.7 930.4,1829.4 932.3,1825.2 934.2,1829.3 936.1,1835.2 938.0,1838.5 939.9,1843.6 941.8,1850.3 943.7,1853.7 945.2,1845.3 946.7,1841.9 948.3,1836.6 949.8,1828.5 951.3,1823.3 953.2,1826.1 955.1,1833.1 957.0,1834.6 958.9,1838.5 960.8,1844.2 962.7,1843.5 964.6,1844.4 966.5,1841.1 968.4,1841.8 970.3,1842.3 972.2,1837.3 974.1,1835.5 976.0,1829.5 977.9,1827.3 979.8,1821.4 981.7,1818.9 983.6,1818.7 985.6,1819.3 987.5,1817.6 989.7,1812.5 991.9,1803.4 994.1,1796.7 996.3,1801.7 998.6,1807.5 1000.8,1815.7 1002.7,1816.7 1004.6,1815.8 1006.5,1819.6 1008.4,1820.6 1010.3,1818.3 1012.2,1819.5 1014.1,1821.4 1016.0,1822.1 1017.9,1820.6 1019.8,1820.6 1021.7,1817.6 1023.6,1817.6 1025.5,1816.6 1027.4,1818.1 1029.3,1821.3 1031.2,1819.5 1033.1,1821.4 1035.0,1816.9 1036.9,1813.4 1038.8,1809.6 1040.7,1806.2 1042.6,1804.8 1044.5,1806.3 1046.4,1801.7 1048.3,1802.4 1050.2,1803.8 1052.1,1812.1 1054.0,1815.6 1055.9,1817.6 1057.8,1818.0 1059.7,1813.5 1061.6,1814.1 1063.5,1812.1 1065.4,1808.1 1067.3,1813.1 1069.2,1821.9 1071.1,1827.1 1073.0,1825.4 1074.9,1821.2 1076.8,1817.2 1078.7,1813.8 1080.6,1809.9 1082.5,1807.3 1084.4,1803.9 1086.3,1802.4 1087.7,1807.0 1089.2,1816.1 1090.6,1821.3 1092.0,1829.0 1093.3,1824.0 1094.7,1813.9 1096.0,1811.6 1097.4,1804.1 1098.7,1796.7 1100.9,1803.2 1103.1,1807.5 1105.3,1810.0 1107.2,1812.3 1109.1,1811.1 1111.0,1808.8 1112.9,1812.7 1114.8,1811.9 1116.7,1805.9 1118.6,1802.1 1120.5,1798.6 1122.4,1798.0 1124.3,1795.9 1126.2,1793.9 1128.1,1792.9 1130.0,1797.4 1131.9,1798.2 1133.8,1799.3 1135.7,1802.4 1137.6,1796.9 1139.5,1795.5 1141.4,1789.4 1143.3,1785.2 1144.6,1780.9 1145.8,1773.1 1147.1,1768.1 1149.0,1768.5 1151.0,1772.1 1152.9,1773.8 1154.4,1768.9 1155.9,1759.3 1157.5,1755.8 1159.0,1750.0 1160.5,1741.5 1162.4,1740.4 1164.3,1738.0 1166.2,1733.9 1167.3,1725.1 1168.5,1721.6 1169.6,1716.3 1170.8,1705.9 1171.9,1701.6 1173.8,1706.8 1175.7,1713.2 1177.6,1720.6 1178.7,1727.2 1179.9,1733.2 1181.0,1739.8 1182.2,1747.8 1183.3,1752.9 1185.2,1748.0 1187.1,1745.7 1189.0,1745.3 1190.9,1749.8 1192.8,1756.2 1194.7,1764.3 1196.0,1770.0" fill="none" stroke="#e81c1c" stroke-width="2.2" stroke-linejoin="round"/>
<rect x="681.4" y="1831.4" width="6" height="6" fill="#111" transform="rotate(35 684.4 1834.4)"/>
<rect x="728.9" y="1774.4" width="6" height="6" fill="#111" transform="rotate(35 731.9 1777.4)"/>
<rect x="841" y="1873.2" width="6" height="6" fill="#111" transform="rotate(35 844 1876.2)"/>
<rect x="916" y="1807" width="6" height="6" fill="#111" transform="rotate(35 919 1810)"/>
<rect x="959.7" y="1837.4" width="6" height="6" fill="#111" transform="rotate(35 962.7 1840.4)"/>
<rect x="1075.7" y="1810.8" width="6" height="6" fill="#111" transform="rotate(35 1078.7 1813.8)"/>
<rect x="1168.9" y="1711.9" width="6" height="6" fill="#111" transform="rotate(35 1171.9 1714.9)"/>
<rect x="1190.7" y="1763.2" width="6" height="6" fill="#111" transform="rotate(35 1193.7 1766.2)"/>
<rect x="725.5" y="1919" width="7" height="6" fill="#3ddc3d"/>
<rect x="971.6" y="1729" width="7" height="6" fill="#3ddc3d"/>
<rect x="1160.8" y="1596.9" width="7" height="6" fill="#3ddc3d"/>
<line x1="598.2" y1="1534.8" x2="598.2" y2="2044.1" stroke="#858585" stroke-width="5"/>
<line x1="596.7" y1="2042.6" x2="1232.1" y2="2042.6" stroke="#777" stroke-width="4"/>
<line x1="1230.6" y1="1534.8" x2="1230.6" y2="2044.1" stroke="#444" stroke-width="3"/>
<line x1="598.2" y1="2042.6" x2="608.2" y2="2042.6" stroke="#4a4a4a" stroke-width="2.6"/>
<line x1="598.2" y1="2019.6" x2="603.2" y2="2019.6" stroke="#4a4a4a" stroke-width="2.6"/>
<line x1="598.2" y1="1996.5" x2="608.2" y2="1996.5" stroke="#4a4a4a" stroke-width="2.6"/>
<line x1="598.2" y1="1973.5" x2="603.2" y2="1973.5" stroke="#4a4a4a" stroke-width="2.6"/>
<line x1="598.2" y1="1950.5" x2="608.2" y2="1950.5" stroke="#4a4a4a" stroke-width="2.6"/>
<line x1="598.2" y1="1927.4" x2="603.2" y2="1927.4" stroke="#4a4a4a" stroke-width="2.6"/>
<line x1="598.2" y1="1904.4" x2="608.2" y2="1904.4" stroke="#4a4a4a" stroke-width="2.6"/>
<line x1="598.2" y1="1881.3" x2="603.2" y2="1881.3" stroke="#4a4a4a" stroke-width="2.6"/>
<line x1="598.2" y1="1858.3" x2="608.2" y2="1858.3" stroke="#4a4a4a" stroke-width="2.6"/>
<line x1="598.2" y1="1835.3" x2="603.2" y2="1835.3" stroke="#4a4a4a" stroke-width="2.6"/>
<line x1="598.2" y1="1812.2" x2="608.2" y2="1812.2" stroke="#4a4a4a" stroke-width="2.6"/>
<line x1="598.2" y1="1789.2" x2="603.2" y2="1789.2" stroke="#4a4a4a" stroke-width="2.6"/>
<line x1="598.2" y1="1766.2" x2="608.2" y2="1766.2" stroke="#4a4a4a" stroke-width="2.6"/>
<line x1="598.2" y1="1743.1" x2="603.2" y2="1743.1" stroke="#4a4a4a" stroke-width="2.6"/>
<line x1="598.2" y1="1720.1" x2="608.2" y2="1720.1" stroke="#4a4a4a" stroke-width="2.6"/>
<line x1="598.2" y1="1697.1" x2="603.2" y2="1697.1" stroke="#4a4a4a" stroke-width="2.6"/>
<line x1="598.2" y1="1674.0" x2="608.2" y2="1674.0" stroke="#4a4a4a" stroke-width="2.6"/>
<line x1="598.2" y1="1651.0" x2="603.2" y2="1651.0" stroke="#4a4a4a" stroke-width="2.6"/>
<line x1="598.2" y1="1627.9" x2="608.2" y2="1627.9" stroke="#4a4a4a" stroke-width="2.6"/>
<line x1="598.2" y1="1604.9" x2="603.2" y2="1604.9" stroke="#4a4a4a" stroke-width="2.6"/>
<line x1="598.2" y1="1581.9" x2="608.2" y2="1581.9" stroke="#4a4a4a" stroke-width="2.6"/>
<line x1="598.2" y1="1558.8" x2="603.2" y2="1558.8" stroke="#4a4a4a" stroke-width="2.6"/>
<line x1="598.2" y1="1535.8" x2="608.2" y2="1535.8" stroke="#4a4a4a" stroke-width="2.6"/>
<line x1="1230.6" y1="2042.6" x2="1225.6" y2="2042.6" stroke="#4a4a4a" stroke-width="2.6"/>
<line x1="1230.6" y1="2005.1" x2="1220.6" y2="2005.1" stroke="#4a4a4a" stroke-width="2.6"/>
<line x1="1230.6" y1="1967.5" x2="1225.6" y2="1967.5" stroke="#4a4a4a" stroke-width="2.6"/>
<line x1="1230.6" y1="1930.0" x2="1220.6" y2="1930.0" stroke="#4a4a4a" stroke-width="2.6"/>
<line x1="1230.6" y1="1892.4" x2="1225.6" y2="1892.4" stroke="#4a4a4a" stroke-width="2.6"/>
<line x1="1230.6" y1="1854.9" x2="1220.6" y2="1854.9" stroke="#4a4a4a" stroke-width="2.6"/>
<line x1="1230.6" y1="1817.4" x2="1225.6" y2="1817.4" stroke="#4a4a4a" stroke-width="2.6"/>
<line x1="1230.6" y1="1779.8" x2="1220.6" y2="1779.8" stroke="#4a4a4a" stroke-width="2.6"/>
<line x1="1230.6" y1="1742.3" x2="1225.6" y2="1742.3" stroke="#4a4a4a" stroke-width="2.6"/>
<line x1="1230.6" y1="1704.7" x2="1220.6" y2="1704.7" stroke="#4a4a4a" stroke-width="2.6"/>
<line x1="1230.6" y1="1667.2" x2="1225.6" y2="1667.2" stroke="#4a4a4a" stroke-width="2.6"/>
<line x1="1230.6" y1="1629.7" x2="1220.6" y2="1629.7" stroke="#4a4a4a" stroke-width="2.6"/>
<line x1="1230.6" y1="1592.1" x2="1225.6" y2="1592.1" stroke="#4a4a4a" stroke-width="2.6"/>
<line x1="1230.6" y1="1554.6" x2="1220.6" y2="1554.6" stroke="#4a4a4a" stroke-width="2.6"/>
<line x1="604.2" y1="2042.6" x2="604.2" y2="2032.6" stroke="#4a4a4a" stroke-width="2.6"/>
<line x1="634.0" y1="2042.6" x2="634.0" y2="2037.6" stroke="#4a4a4a" stroke-width="2.6"/>
<line x1="663.9" y1="2042.6" x2="663.9" y2="2032.6" stroke="#4a4a4a" stroke-width="2.6"/>
<line x1="693.7" y1="2042.6" x2="693.7" y2="2037.6" stroke="#4a4a4a" stroke-width="2.6"/>
<line x1="723.5" y1="2042.6" x2="723.5" y2="2032.6" stroke="#4a4a4a" stroke-width="2.6"/>
<line x1="753.4" y1="2042.6" x2="753.4" y2="2037.6" stroke="#4a4a4a" stroke-width="2.6"/>
<line x1="783.2" y1="2042.6" x2="783.2" y2="2032.6" stroke="#4a4a4a" stroke-width="2.6"/>
<line x1="813.0" y1="2042.6" x2="813.0" y2="2037.6" stroke="#4a4a4a" stroke-width="2.6"/>
<line x1="842.8" y1="2042.6" x2="842.8" y2="2032.6" stroke="#4a4a4a" stroke-width="2.6"/>
<line x1="872.7" y1="2042.6" x2="872.7" y2="2037.6" stroke="#4a4a4a" stroke-width="2.6"/>
<line x1="902.5" y1="2042.6" x2="902.5" y2="2032.6" stroke="#4a4a4a" stroke-width="2.6"/>
<line x1="932.3" y1="2042.6" x2="932.3" y2="2037.6" stroke="#4a4a4a" stroke-width="2.6"/>
<line x1="962.2" y1="2042.6" x2="962.2" y2="2032.6" stroke="#4a4a4a" stroke-width="2.6"/>
<line x1="992.0" y1="2042.6" x2="992.0" y2="2037.6" stroke="#4a4a4a" stroke-width="2.6"/>
<line x1="1021.8" y1="2042.6" x2="1021.8" y2="2032.6" stroke="#4a4a4a" stroke-width="2.6"/>
<line x1="1051.7" y1="2042.6" x2="1051.7" y2="2037.6" stroke="#4a4a4a" stroke-width="2.6"/>
<line x1="1081.5" y1="2042.6" x2="1081.5" y2="2032.6" stroke="#4a4a4a" stroke-width="2.6"/>
<line x1="1111.3" y1="2042.6" x2="1111.3" y2="2037.6" stroke="#4a4a4a" stroke-width="2.6"/>
<line x1="1141.1" y1="2042.6" x2="1141.1" y2="2032.6" stroke="#4a4a4a" stroke-width="2.6"/>
<line x1="1171.0" y1="2042.6" x2="1171.0" y2="2037.6" stroke="#4a4a4a" stroke-width="2.6"/>
<line x1="1200.8" y1="2042.6" x2="1200.8" y2="2032.6" stroke="#4a4a4a" stroke-width="2.6"/>
<line x1="709" y1="2004.9" x2="785.7" y2="2004.9" stroke="#e86a6a" stroke-width="3.2"/>
<line x1="953" y1="2004.9" x2="1029.7" y2="2004.9" stroke="#666" stroke-width="3.2"/>
</g>
<g>
<text x="114.2" y="558.5" text-anchor="end" class="tk" textLength="53.6" lengthAdjust="spacingAndGlyphs">34. 50</text>
<text x="114.2" y="515.3" text-anchor="end" class="tk" textLength="53.6" lengthAdjust="spacingAndGlyphs">34. 55</text>
<text x="114.2" y="472.2" text-anchor="end" class="tk" textLength="53.6" lengthAdjust="spacingAndGlyphs">34. 60</text>
<text x="114.2" y="429.0" text-anchor="end" class="tk" textLength="53.6" lengthAdjust="spacingAndGlyphs">34. 65</text>
<text x="114.2" y="385.8" text-anchor="end" class="tk" textLength="53.6" lengthAdjust="spacingAndGlyphs">34. 70</text>
<text x="114.2" y="342.7" text-anchor="end" class="tk" textLength="53.6" lengthAdjust="spacingAndGlyphs">34. 75</text>
<text x="114.2" y="299.5" text-anchor="end" class="tk" textLength="53.6" lengthAdjust="spacingAndGlyphs">34. 80</text>
<text x="114.2" y="256.3" text-anchor="end" class="tk" textLength="53.6" lengthAdjust="spacingAndGlyphs">34. 85</text>
<text x="114.2" y="213.2" text-anchor="end" class="tk" textLength="53.6" lengthAdjust="spacingAndGlyphs">34. 90</text>
<text x="114.2" y="170.0" text-anchor="end" class="tk" textLength="53.6" lengthAdjust="spacingAndGlyphs">34. 95</text>
<text x="114.2" y="126.8" text-anchor="end" class="tk" textLength="53.6" lengthAdjust="spacingAndGlyphs">35. 00</text>
<text x="114.2" y="83.7" text-anchor="end" class="tk" textLength="53.6" lengthAdjust="spacingAndGlyphs">35. 05</text>
<text x="114.2" y="40.5" text-anchor="end" class="tk" textLength="53.6" lengthAdjust="spacingAndGlyphs">35. 10</text>
<text x="778" y="558.5" class="tk" textLength="31.8" lengthAdjust="spacingAndGlyphs">−10</text>
<text x="778" y="506.7" class="tk" textLength="10.6" lengthAdjust="spacingAndGlyphs">0</text>
<text x="778" y="454.9" class="tk" textLength="21.2" lengthAdjust="spacingAndGlyphs">10</text>
<text x="778" y="403.1" class="tk" textLength="21.2" lengthAdjust="spacingAndGlyphs">20</text>
<text x="778" y="351.3" class="tk" textLength="21.2" lengthAdjust="spacingAndGlyphs">30</text>
<text x="778" y="299.5" class="tk" textLength="21.2" lengthAdjust="spacingAndGlyphs">40</text>
<text x="778" y="247.7" class="tk" textLength="21.2" lengthAdjust="spacingAndGlyphs">50</text>
<text x="778" y="195.9" class="tk" textLength="21.2" lengthAdjust="spacingAndGlyphs">60</text>
<text x="778" y="144.1" class="tk" textLength="21.2" lengthAdjust="spacingAndGlyphs">70</text>
<text x="778" y="92.3" class="tk" textLength="21.2" lengthAdjust="spacingAndGlyphs">80</text>
<text x="778" y="40.5" class="tk" textLength="21.2" lengthAdjust="spacingAndGlyphs">90</text>
<text x="131.7" y="579.5" text-anchor="middle" class="tk" textLength="10.6" lengthAdjust="spacingAndGlyphs">0</text>
<text x="192.1" y="579.5" text-anchor="middle" class="tk" textLength="21.2" lengthAdjust="spacingAndGlyphs">20</text>
<text x="252.5" y="579.5" text-anchor="middle" class="tk" textLength="21.2" lengthAdjust="spacingAndGlyphs">40</text>
<text x="312.9" y="579.5" text-anchor="middle" class="tk" textLength="21.2" lengthAdjust="spacingAndGlyphs">60</text>
<text x="373.3" y="579.5" text-anchor="middle" class="tk" textLength="21.2" lengthAdjust="spacingAndGlyphs">80</text>
<text x="433.7" y="579.5" text-anchor="middle" class="tk" textLength="31.8" lengthAdjust="spacingAndGlyphs">100</text>
<text x="494.1" y="579.5" text-anchor="middle" class="tk" textLength="31.8" lengthAdjust="spacingAndGlyphs">120</text>
<text x="554.5" y="579.5" text-anchor="middle" class="tk" textLength="31.8" lengthAdjust="spacingAndGlyphs">140</text>
<text x="614.9" y="579.5" text-anchor="middle" class="tk" textLength="31.8" lengthAdjust="spacingAndGlyphs">160</text>
<text x="675.3" y="579.5" text-anchor="middle" class="tk" textLength="31.8" lengthAdjust="spacingAndGlyphs">180</text>
<text x="735.7" y="579.5" text-anchor="middle" class="tk" textLength="31.8" lengthAdjust="spacingAndGlyphs">200</text>
<text x="196.8" y="76.0" class="rg" font-size="51.7" textLength="16.0" lengthAdjust="spacingAndGlyphs">I</text>
<text x="401.8" y="76.0" class="rg" font-size="51.7" textLength="32.2" lengthAdjust="spacingAndGlyphs">II</text>
<text x="598.2" y="76.0" class="rg" font-size="51.7" textLength="49.5" lengthAdjust="spacingAndGlyphs">III</text>
<text x="693.6" y="75.5" class="rg" font-size="50.9" textLength="53.1" lengthAdjust="spacingAndGlyphs">IV</text>
<text x="331.1" y="529.1" class="lg" font-size="34.0" textLength="136.5" lengthAdjust="spacingAndGlyphs">AIRT(°C)</text>
<text x="576.1" y="529.1" class="lg" font-size="34.0" textLength="170.3" lengthAdjust="spacingAndGlyphs">Stress(MPa)</text>
<text transform="translate(37.3,370.4) rotate(-90)" class="ax" font-size="40.0" textLength="166.6" lengthAdjust="spacingAndGlyphs">AIRT (°C)</text>
<text transform="translate(843.0,393.6) rotate(-90)" class="ax" font-size="40.0" textLength="204.9" lengthAdjust="spacingAndGlyphs">Stress (MPa)</text>
<text x="371.0" y="621.0" class="ax" font-size="41.0" textLength="134.6" lengthAdjust="spacingAndGlyphs">Time (s)</text>
<text x="391.4" y="683.7" class="pn" font-size="48.0" textLength="59.7" lengthAdjust="spacingAndGlyphs">(a)</text>
<text x="1008.7" y="551.4" text-anchor="end" class="tk" textLength="56" lengthAdjust="spacingAndGlyphs">33. 20</text>
<text x="1008.7" y="513.3" text-anchor="end" class="tk" textLength="56" lengthAdjust="spacingAndGlyphs">33. 25</text>
<text x="1008.7" y="475.2" text-anchor="end" class="tk" textLength="56" lengthAdjust="spacingAndGlyphs">33. 30</text>
<text x="1008.7" y="437.1" text-anchor="end" class="tk" textLength="56" lengthAdjust="spacingAndGlyphs">33. 35</text>
<text x="1008.7" y="399.0" text-anchor="end" class="tk" textLength="56" lengthAdjust="spacingAndGlyphs">33. 40</text>
<text x="1008.7" y="360.9" text-anchor="end" class="tk" textLength="56" lengthAdjust="spacingAndGlyphs">33. 45</text>
<text x="1008.7" y="322.8" text-anchor="end" class="tk" textLength="56" lengthAdjust="spacingAndGlyphs">33. 50</text>
<text x="1008.7" y="284.7" text-anchor="end" class="tk" textLength="56" lengthAdjust="spacingAndGlyphs">33. 55</text>
<text x="1008.7" y="246.6" text-anchor="end" class="tk" textLength="56" lengthAdjust="spacingAndGlyphs">33. 60</text>
<text x="1008.7" y="208.5" text-anchor="end" class="tk" textLength="56" lengthAdjust="spacingAndGlyphs">33. 65</text>
<text x="1008.7" y="170.4" text-anchor="end" class="tk" textLength="56" lengthAdjust="spacingAndGlyphs">33. 70</text>
<text x="1008.7" y="132.3" text-anchor="end" class="tk" textLength="56" lengthAdjust="spacingAndGlyphs">33. 75</text>
<text x="1008.7" y="94.2" text-anchor="end" class="tk" textLength="56" lengthAdjust="spacingAndGlyphs">33. 80</text>
<text x="1008.7" y="56.1" text-anchor="end" class="tk" textLength="56" lengthAdjust="spacingAndGlyphs">33. 85</text>
<text x="1008.7" y="18.0" text-anchor="end" class="tk" textLength="56" lengthAdjust="spacingAndGlyphs">33. 90</text>
<text x="1695" y="551.4" class="tk" textLength="21.2" lengthAdjust="spacingAndGlyphs">−2</text>
<text x="1695" y="505.0" class="tk" textLength="10.6" lengthAdjust="spacingAndGlyphs">0</text>
<text x="1695" y="458.6" class="tk" textLength="10.6" lengthAdjust="spacingAndGlyphs">2</text>
<text x="1695" y="412.3" class="tk" textLength="10.6" lengthAdjust="spacingAndGlyphs">4</text>
<text x="1695" y="365.9" class="tk" textLength="10.6" lengthAdjust="spacingAndGlyphs">6</text>
<text x="1695" y="319.5" class="tk" textLength="10.6" lengthAdjust="spacingAndGlyphs">8</text>
<text x="1695" y="273.1" class="tk" textLength="21.2" lengthAdjust="spacingAndGlyphs">10</text>
<text x="1695" y="226.7" class="tk" textLength="21.2" lengthAdjust="spacingAndGlyphs">12</text>
<text x="1695" y="180.3" class="tk" textLength="21.2" lengthAdjust="spacingAndGlyphs">14</text>
<text x="1695" y="134.0" class="tk" textLength="21.2" lengthAdjust="spacingAndGlyphs">16</text>
<text x="1695" y="87.6" class="tk" textLength="21.2" lengthAdjust="spacingAndGlyphs">18</text>
<text x="1695" y="41.2" class="tk" textLength="21.2" lengthAdjust="spacingAndGlyphs">20</text>
<text x="1034.8" y="574.8" text-anchor="middle" class="tk" textLength="10.6" lengthAdjust="spacingAndGlyphs">0</text>
<text x="1111.2" y="574.8" text-anchor="middle" class="tk" textLength="21.2" lengthAdjust="spacingAndGlyphs">10</text>
<text x="1187.6" y="574.8" text-anchor="middle" class="tk" textLength="21.2" lengthAdjust="spacingAndGlyphs">20</text>
<text x="1264.0" y="574.8" text-anchor="middle" class="tk" textLength="21.2" lengthAdjust="spacingAndGlyphs">30</text>
<text x="1340.4" y="574.8" text-anchor="middle" class="tk" textLength="21.2" lengthAdjust="spacingAndGlyphs">40</text>
<text x="1416.8" y="574.8" text-anchor="middle" class="tk" textLength="21.2" lengthAdjust="spacingAndGlyphs">50</text>
<text x="1493.2" y="574.8" text-anchor="middle" class="tk" textLength="21.2" lengthAdjust="spacingAndGlyphs">60</text>
<text x="1569.6" y="574.8" text-anchor="middle" class="tk" textLength="21.2" lengthAdjust="spacingAndGlyphs">70</text>
<text x="1646.0" y="574.8" text-anchor="middle" class="tk" textLength="21.2" lengthAdjust="spacingAndGlyphs">80</text>
<text x="1086.3" y="56.2" class="rg" font-size="52.1" textLength="16.0" lengthAdjust="spacingAndGlyphs">I</text>
<text x="1299.5" y="56.2" class="rg" font-size="52.1" textLength="36.1" lengthAdjust="spacingAndGlyphs">II</text>
<text x="1490.2" y="56.2" class="rg" font-size="52.1" textLength="47.5" lengthAdjust="spacingAndGlyphs">III</text>
<text x="1578.6" y="55.7" class="rg" font-size="51.3" textLength="51.2" lengthAdjust="spacingAndGlyphs">IV</text>
<text x="1240.5" y="527.5" class="lg" font-size="34.0" textLength="141.4" lengthAdjust="spacingAndGlyphs">AIRT(°C)</text>
<text x="1485.5" y="527.5" class="lg" font-size="34.0" textLength="176.8" lengthAdjust="spacingAndGlyphs">Stress(MPa)</text>
<text transform="translate(931.5,364.0) rotate(-90)" class="ax" font-size="40.0" textLength="173.6" lengthAdjust="spacingAndGlyphs">AIRT (°C)</text>
<text transform="translate(1756.8,379.1) rotate(-90)" class="ax" font-size="40.0" textLength="206.5" lengthAdjust="spacingAndGlyphs">Stress (MPa)</text>
<text x="1275.2" y="619.8" class="ax" font-size="41.0" textLength="139.0" lengthAdjust="spacingAndGlyphs">Time (s)</text>
<text x="1316.4" y="684.6" class="pn" font-size="48.0" textLength="62.1" lengthAdjust="spacingAndGlyphs">(b)</text>
<text x="113.2" y="1311.4" text-anchor="end" class="tk" textLength="54.4" lengthAdjust="spacingAndGlyphs">33. 10</text>
<text x="113.2" y="1246.7" text-anchor="end" class="tk" textLength="54.4" lengthAdjust="spacingAndGlyphs">33. 15</text>
<text x="113.2" y="1182.0" text-anchor="end" class="tk" textLength="54.4" lengthAdjust="spacingAndGlyphs">33. 20</text>
<text x="113.2" y="1117.3" text-anchor="end" class="tk" textLength="54.4" lengthAdjust="spacingAndGlyphs">33. 25</text>
<text x="113.2" y="1052.6" text-anchor="end" class="tk" textLength="54.4" lengthAdjust="spacingAndGlyphs">33. 30</text>
<text x="113.2" y="987.9" text-anchor="end" class="tk" textLength="54.4" lengthAdjust="spacingAndGlyphs">33. 35</text>
<text x="113.2" y="923.2" text-anchor="end" class="tk" textLength="54.4" lengthAdjust="spacingAndGlyphs">33. 40</text>
<text x="113.2" y="858.5" text-anchor="end" class="tk" textLength="54.4" lengthAdjust="spacingAndGlyphs">33. 45</text>
<text x="113.2" y="793.8" text-anchor="end" class="tk" textLength="54.4" lengthAdjust="spacingAndGlyphs">33. 50</text>
<text x="780.4" y="1259.6" class="tk" textLength="10.6" lengthAdjust="spacingAndGlyphs">0</text>
<text x="780.4" y="1156.1" class="tk" textLength="21.2" lengthAdjust="spacingAndGlyphs">10</text>
<text x="780.4" y="1052.6" class="tk" textLength="21.2" lengthAdjust="spacingAndGlyphs">20</text>
<text x="780.4" y="949.1" class="tk" textLength="21.2" lengthAdjust="spacingAndGlyphs">30</text>
<text x="780.4" y="845.6" class="tk" textLength="21.2" lengthAdjust="spacingAndGlyphs">40</text>
<text x="135.8" y="1334.0" text-anchor="middle" class="tk" textLength="10.6" lengthAdjust="spacingAndGlyphs">0</text>
<text x="196.3" y="1334.0" text-anchor="middle" class="tk" textLength="21.2" lengthAdjust="spacingAndGlyphs">10</text>
<text x="256.8" y="1334.0" text-anchor="middle" class="tk" textLength="21.2" lengthAdjust="spacingAndGlyphs">20</text>
<text x="317.3" y="1334.0" text-anchor="middle" class="tk" textLength="21.2" lengthAdjust="spacingAndGlyphs">30</text>
<text x="377.8" y="1334.0" text-anchor="middle" class="tk" textLength="21.2" lengthAdjust="spacingAndGlyphs">40</text>
<text x="438.3" y="1334.0" text-anchor="middle" class="tk" textLength="21.2" lengthAdjust="spacingAndGlyphs">50</text>
<text x="498.8" y="1334.0" text-anchor="middle" class="tk" textLength="21.2" lengthAdjust="spacingAndGlyphs">60</text>
<text x="559.3" y="1334.0" text-anchor="middle" class="tk" textLength="21.2" lengthAdjust="spacingAndGlyphs">70</text>
<text x="619.8" y="1334.0" text-anchor="middle" class="tk" textLength="21.2" lengthAdjust="spacingAndGlyphs">80</text>
<text x="680.3" y="1334.0" text-anchor="middle" class="tk" textLength="21.2" lengthAdjust="spacingAndGlyphs">90</text>
<text x="740.8" y="1334.0" text-anchor="middle" class="tk" textLength="31.8" lengthAdjust="spacingAndGlyphs">100</text>
<text x="180.8" y="829.4" class="rg" font-size="51.1" textLength="17.0" lengthAdjust="spacingAndGlyphs">I</text>
<text x="361.2" y="829.4" class="rg" font-size="51.1" textLength="35.1" lengthAdjust="spacingAndGlyphs">II</text>
<text x="571.2" y="829.4" class="rg" font-size="51.1" textLength="48.5" lengthAdjust="spacingAndGlyphs">III</text>
<text x="673.9" y="828.9" class="rg" font-size="50.3" textLength="52.0" lengthAdjust="spacingAndGlyphs">IV</text>
<text x="325.8" y="1282.8" class="lg" font-size="34.0" textLength="136.6" lengthAdjust="spacingAndGlyphs">AIRT(°C)</text>
<text x="570.9" y="1282.8" class="lg" font-size="34.0" textLength="171.9" lengthAdjust="spacingAndGlyphs">Stress(MPa)</text>
<text transform="translate(38.6,1109.9) rotate(-90)" class="ax" font-size="40.0" textLength="168.7" lengthAdjust="spacingAndGlyphs">AIRT (°C)</text>
<text transform="translate(845.1,1148.0) rotate(-90)" class="ax" font-size="40.0" textLength="205.8" lengthAdjust="spacingAndGlyphs">Stress (MPa)</text>
<text x="379.6" y="1380.4" class="ax" font-size="41.0" textLength="134.5" lengthAdjust="spacingAndGlyphs">Time (s)</text>
<text x="395.6" y="1448.0" class="pn" font-size="48.0" textLength="55.9" lengthAdjust="spacingAndGlyphs">(c)</text>
<text x="1012.2" y="1313.2" text-anchor="end" class="tk" textLength="43.2" lengthAdjust="spacingAndGlyphs">34. 2</text>
<text x="1012.2" y="1237.7" text-anchor="end" class="tk" textLength="43.2" lengthAdjust="spacingAndGlyphs">34. 3</text>
<text x="1012.2" y="1162.2" text-anchor="end" class="tk" textLength="43.2" lengthAdjust="spacingAndGlyphs">34. 4</text>
<text x="1012.2" y="1086.7" text-anchor="end" class="tk" textLength="43.2" lengthAdjust="spacingAndGlyphs">34. 5</text>
<text x="1012.2" y="1011.1" text-anchor="end" class="tk" textLength="43.2" lengthAdjust="spacingAndGlyphs">34. 6</text>
<text x="1012.2" y="935.6" text-anchor="end" class="tk" textLength="43.2" lengthAdjust="spacingAndGlyphs">34. 7</text>
<text x="1012.2" y="860.1" text-anchor="end" class="tk" textLength="43.2" lengthAdjust="spacingAndGlyphs">34. 8</text>
<text x="1012.2" y="784.6" text-anchor="end" class="tk" textLength="43.2" lengthAdjust="spacingAndGlyphs">34. 9</text>
<text x="1689" y="1313.2" class="tk" textLength="31.8" lengthAdjust="spacingAndGlyphs">−10</text>
<text x="1689" y="1225.1" class="tk" textLength="10.6" lengthAdjust="spacingAndGlyphs">0</text>
<text x="1689" y="1137.0" class="tk" textLength="21.2" lengthAdjust="spacingAndGlyphs">10</text>
<text x="1689" y="1048.9" class="tk" textLength="21.2" lengthAdjust="spacingAndGlyphs">20</text>
<text x="1689" y="960.8" class="tk" textLength="21.2" lengthAdjust="spacingAndGlyphs">30</text>
<text x="1689" y="872.7" class="tk" textLength="21.2" lengthAdjust="spacingAndGlyphs">40</text>
<text x="1689" y="784.6" class="tk" textLength="21.2" lengthAdjust="spacingAndGlyphs">50</text>
<text x="1037.5" y="1335.8" text-anchor="middle" class="tk" textLength="10.6" lengthAdjust="spacingAndGlyphs">0</text>
<text x="1172.3" y="1335.8" text-anchor="middle" class="tk" textLength="21.2" lengthAdjust="spacingAndGlyphs">20</text>
<text x="1307.1" y="1335.8" text-anchor="middle" class="tk" textLength="21.2" lengthAdjust="spacingAndGlyphs">40</text>
<text x="1441.9" y="1335.8" text-anchor="middle" class="tk" textLength="21.2" lengthAdjust="spacingAndGlyphs">60</text>
<text x="1576.7" y="1335.8" text-anchor="middle" class="tk" textLength="21.2" lengthAdjust="spacingAndGlyphs">80</text>
<text x="1104.4" y="822.7" class="rg" font-size="51.5" textLength="16.5" lengthAdjust="spacingAndGlyphs">I</text>
<text x="1315.1" y="822.7" class="rg" font-size="51.5" textLength="35.3" lengthAdjust="spacingAndGlyphs">II</text>
<text x="1484.5" y="822.7" class="rg" font-size="51.5" textLength="47.9" lengthAdjust="spacingAndGlyphs">III</text>
<text x="1558.0" y="822.2" class="rg" font-size="50.7" textLength="51.0" lengthAdjust="spacingAndGlyphs">IV</text>
<text x="1239.0" y="1289.1" class="lg" font-size="34.0" textLength="139.8" lengthAdjust="spacingAndGlyphs">AIRT(°C)</text>
<text x="1488.7" y="1289.1" class="lg" font-size="34.0" textLength="175.2" lengthAdjust="spacingAndGlyphs">Stress(MPa)</text>
<text transform="translate(942.0,1126.2) rotate(-90)" class="ax" font-size="40.0" textLength="170.1" lengthAdjust="spacingAndGlyphs">AIRT (°C)</text>
<text transform="translate(1753.9,1145.0) rotate(-90)" class="ax" font-size="40.0" textLength="206.5" lengthAdjust="spacingAndGlyphs">Stress (MPa)</text>
<text x="1282.1" y="1384.7" class="ax" font-size="41.0" textLength="136.4" lengthAdjust="spacingAndGlyphs">Time (s)</text>
<text x="1319.8" y="1448.0" class="pn" font-size="48.0" textLength="62.1" lengthAdjust="spacingAndGlyphs">(d)</text>
<text x="587.9" y="2050.6" text-anchor="end" class="tk" textLength="53.6" lengthAdjust="spacingAndGlyphs">34. 90</text>
<text x="587.9" y="2004.5" text-anchor="end" class="tk" textLength="53.6" lengthAdjust="spacingAndGlyphs">34. 95</text>
<text x="587.9" y="1958.5" text-anchor="end" class="tk" textLength="53.6" lengthAdjust="spacingAndGlyphs">35. 00</text>
<text x="587.9" y="1912.4" text-anchor="end" class="tk" textLength="53.6" lengthAdjust="spacingAndGlyphs">35. 05</text>
<text x="587.9" y="1866.3" text-anchor="end" class="tk" textLength="53.6" lengthAdjust="spacingAndGlyphs">35. 10</text>
<text x="587.9" y="1820.2" text-anchor="end" class="tk" textLength="53.6" lengthAdjust="spacingAndGlyphs">35. 15</text>
<text x="587.9" y="1774.2" text-anchor="end" class="tk" textLength="53.6" lengthAdjust="spacingAndGlyphs">35. 20</text>
<text x="587.9" y="1728.1" text-anchor="end" class="tk" textLength="53.6" lengthAdjust="spacingAndGlyphs">35. 25</text>
<text x="587.9" y="1682.0" text-anchor="end" class="tk" textLength="53.6" lengthAdjust="spacingAndGlyphs">35. 30</text>
<text x="587.9" y="1635.9" text-anchor="end" class="tk" textLength="53.6" lengthAdjust="spacingAndGlyphs">35. 35</text>
<text x="587.9" y="1589.9" text-anchor="end" class="tk" textLength="53.6" lengthAdjust="spacingAndGlyphs">35. 40</text>
<text x="587.9" y="1543.8" text-anchor="end" class="tk" textLength="53.6" lengthAdjust="spacingAndGlyphs">35. 45</text>
<text x="1242.7" y="2013.1" class="tk" textLength="10.6" lengthAdjust="spacingAndGlyphs">0</text>
<text x="1242.7" y="1938.0" class="tk" textLength="21.2" lengthAdjust="spacingAndGlyphs">20</text>
<text x="1242.7" y="1862.9" class="tk" textLength="21.2" lengthAdjust="spacingAndGlyphs">40</text>
<text x="1242.7" y="1787.8" class="tk" textLength="21.2" lengthAdjust="spacingAndGlyphs">60</text>
<text x="1242.7" y="1712.7" class="tk" textLength="21.2" lengthAdjust="spacingAndGlyphs">80</text>
<text x="1242.7" y="1637.7" class="tk" textLength="31.8" lengthAdjust="spacingAndGlyphs">100</text>
<text x="1242.7" y="1562.6" class="tk" textLength="31.8" lengthAdjust="spacingAndGlyphs">120</text>
<text x="604.2" y="2072.5" text-anchor="middle" class="tk" textLength="10.6" lengthAdjust="spacingAndGlyphs">0</text>
<text x="663.9" y="2072.5" text-anchor="middle" class="tk" textLength="21.2" lengthAdjust="spacingAndGlyphs">20</text>
<text x="723.5" y="2072.5" text-anchor="middle" class="tk" textLength="21.2" lengthAdjust="spacingAndGlyphs">40</text>
<text x="783.2" y="2072.5" text-anchor="middle" class="tk" textLength="21.2" lengthAdjust="spacingAndGlyphs">60</text>
<text x="842.8" y="2072.5" text-anchor="middle" class="tk" textLength="21.2" lengthAdjust="spacingAndGlyphs">80</text>
<text x="902.5" y="2072.5" text-anchor="middle" class="tk" textLength="31.8" lengthAdjust="spacingAndGlyphs">100</text>
<text x="962.2" y="2072.5" text-anchor="middle" class="tk" textLength="31.8" lengthAdjust="spacingAndGlyphs">120</text>
<text x="1021.8" y="2072.5" text-anchor="middle" class="tk" textLength="31.8" lengthAdjust="spacingAndGlyphs">140</text>
<text x="1081.5" y="2072.5" text-anchor="middle" class="tk" textLength="31.8" lengthAdjust="spacingAndGlyphs">160</text>
<text x="1141.1" y="2072.5" text-anchor="middle" class="tk" textLength="31.8" lengthAdjust="spacingAndGlyphs">180</text>
<text x="1200.8" y="2072.5" text-anchor="middle" class="tk" textLength="31.8" lengthAdjust="spacingAndGlyphs">200</text>
<text x="651.0" y="1577.3" class="rg" font-size="47.9" textLength="18.2" lengthAdjust="spacingAndGlyphs">I</text>
<text x="832.9" y="1577.3" class="rg" font-size="47.9" textLength="32.5" lengthAdjust="spacingAndGlyphs">II</text>
<text x="1049.9" y="1577.3" class="rg" font-size="47.9" textLength="45.1" lengthAdjust="spacingAndGlyphs">III</text>
<text x="1158.8" y="1576.9" class="rg" font-size="47.2" textLength="48.3" lengthAdjust="spacingAndGlyphs">IV</text>
<text x="794.3" y="2017.5" class="lg" font-size="34.0" textLength="134.9" lengthAdjust="spacingAndGlyphs">AIRT(°C)</text>
<text x="1036.1" y="2017.5" class="lg" font-size="34.0" textLength="168.7" lengthAdjust="spacingAndGlyphs">Stress(MPa)</text>
<text transform="translate(513.8,1850.6) rotate(-90)" class="ax" font-size="40.0" textLength="164.8" lengthAdjust="spacingAndGlyphs">AIRT (°C)</text>
<text transform="translate(1316.8,1890.7) rotate(-90)" class="ax" font-size="40.0" textLength="199.1" lengthAdjust="spacingAndGlyphs">Stress (MPa)</text>
<text x="848.2" y="2120.9" class="ax" font-size="40.0" textLength="132.9" lengthAdjust="spacingAndGlyphs">Time (s)</text>
<text x="861.7" y="2183.7" class="pn" font-size="48.0" textLength="55.0" lengthAdjust="spacingAndGlyphs">(e)</text>
</g>
</svg>
</div>
</body></html>
